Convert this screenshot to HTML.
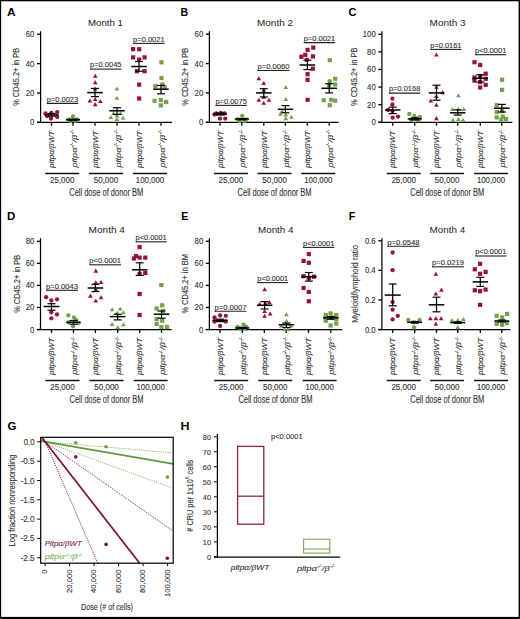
<!DOCTYPE html>
<html><head><meta charset="utf-8"><style>
html,body{margin:0;padding:0;background:#fff;width:520px;height:619px;overflow:hidden}
svg text{font-family:"Liberation Sans", sans-serif}
</style></head><body>
<svg width="520" height="619" viewBox="0 0 520 619" style="display:block;font-family:'Liberation Sans', sans-serif">
<rect x="0" y="0" width="520" height="619" fill="#000"/>
<rect x="1.15" y="1.3" width="517.45" height="615.6" fill="#fff"/>
<text x="7.0" y="16.4" font-size="11" text-anchor="start" fill="#000" font-weight="bold" font-style="normal" textLength="8.6" lengthAdjust="spacingAndGlyphs">A</text>
<text x="88.0" y="26.0" font-size="9.4" text-anchor="start" fill="#222" font-weight="normal" font-style="normal" textLength="35.0" lengthAdjust="spacingAndGlyphs">Month 1</text>
<line x1="40.6" y1="31.25" x2="40.6" y2="123.0" stroke="#000" stroke-width="1.25"/>
<line x1="37.0" y1="122.4" x2="40.6" y2="122.4" stroke="#000" stroke-width="1.3"/>
<text x="34.4" y="125.4" font-size="8.6" text-anchor="end" fill="#333" font-weight="normal" font-style="normal" textLength="4.3" lengthAdjust="spacingAndGlyphs" stroke="#333" stroke-width="0.12">0</text>
<line x1="37.0" y1="93.01666666666667" x2="40.6" y2="93.01666666666667" stroke="#000" stroke-width="1.3"/>
<text x="34.4" y="96.01666666666667" font-size="8.6" text-anchor="end" fill="#333" font-weight="normal" font-style="normal" textLength="8.6" lengthAdjust="spacingAndGlyphs" stroke="#333" stroke-width="0.12">20</text>
<line x1="37.0" y1="63.63333333333333" x2="40.6" y2="63.63333333333333" stroke="#000" stroke-width="1.3"/>
<text x="34.4" y="66.63333333333333" font-size="8.6" text-anchor="end" fill="#333" font-weight="normal" font-style="normal" textLength="8.6" lengthAdjust="spacingAndGlyphs" stroke="#333" stroke-width="0.12">40</text>
<line x1="37.0" y1="34.249999999999986" x2="40.6" y2="34.249999999999986" stroke="#000" stroke-width="1.3"/>
<text x="34.4" y="37.249999999999986" font-size="8.6" text-anchor="end" fill="#333" font-weight="normal" font-style="normal" textLength="8.6" lengthAdjust="spacingAndGlyphs" stroke="#333" stroke-width="0.12">60</text>
<text transform="translate(19.200000000000003,76.825) rotate(-90)" font-size="8.6" text-anchor="middle" fill="#333" font-weight="normal" font-style="normal" textLength="58" lengthAdjust="spacingAndGlyphs" stroke="#333" stroke-width="0.12">% CD45.2+ in PB</text>
<line x1="37.0" y1="122.4" x2="172" y2="122.4" stroke="#000" stroke-width="1.25"/>
<line x1="51.5" y1="122.4" x2="51.5" y2="125.80000000000001" stroke="#000" stroke-width="1.3"/>
<line x1="73" y1="122.4" x2="73" y2="125.80000000000001" stroke="#000" stroke-width="1.3"/>
<line x1="95" y1="122.4" x2="95" y2="125.80000000000001" stroke="#000" stroke-width="1.3"/>
<line x1="117" y1="122.4" x2="117" y2="125.80000000000001" stroke="#000" stroke-width="1.3"/>
<line x1="139" y1="122.4" x2="139" y2="125.80000000000001" stroke="#000" stroke-width="1.3"/>
<line x1="161" y1="122.4" x2="161" y2="125.80000000000001" stroke="#000" stroke-width="1.3"/>
<text transform="translate(54.2,167.9) rotate(-90)" font-size="7.6" text-anchor="start" fill="#333" font-weight="normal" font-style="italic" textLength="37.2" lengthAdjust="spacingAndGlyphs" stroke="#333" stroke-width="0.12">pitpα/βWT</text>
<text transform="translate(76.6,167.6) rotate(-90)" font-size="7.6" text-anchor="start" fill="#333" font-weight="normal" font-style="italic" textLength="38.0" lengthAdjust="spacingAndGlyphs" stroke="#333" stroke-width="0.12">pitpα<tspan font-size="4.5" dy="-2.5">-/-</tspan><tspan dy="2.5">/β</tspan><tspan font-size="4.5" dy="-2.5">-/-</tspan></text>
<text transform="translate(97.7,167.9) rotate(-90)" font-size="7.6" text-anchor="start" fill="#333" font-weight="normal" font-style="italic" textLength="37.2" lengthAdjust="spacingAndGlyphs" stroke="#333" stroke-width="0.12">pitpα/βWT</text>
<text transform="translate(120.6,167.6) rotate(-90)" font-size="7.6" text-anchor="start" fill="#333" font-weight="normal" font-style="italic" textLength="38.0" lengthAdjust="spacingAndGlyphs" stroke="#333" stroke-width="0.12">pitpα<tspan font-size="4.5" dy="-2.5">-/-</tspan><tspan dy="2.5">/β</tspan><tspan font-size="4.5" dy="-2.5">-/-</tspan></text>
<text transform="translate(141.7,167.9) rotate(-90)" font-size="7.6" text-anchor="start" fill="#333" font-weight="normal" font-style="italic" textLength="37.2" lengthAdjust="spacingAndGlyphs" stroke="#333" stroke-width="0.12">pitpα/βWT</text>
<text transform="translate(164.6,167.6) rotate(-90)" font-size="7.6" text-anchor="start" fill="#333" font-weight="normal" font-style="italic" textLength="38.0" lengthAdjust="spacingAndGlyphs" stroke="#333" stroke-width="0.12">pitpα<tspan font-size="4.5" dy="-2.5">-/-</tspan><tspan dy="2.5">/β</tspan><tspan font-size="4.5" dy="-2.5">-/-</tspan></text>
<line x1="45.25" y1="173.5" x2="79.25" y2="173.5" stroke="#111" stroke-width="1.3"/>
<text x="62.25" y="183" font-size="8.3" text-anchor="middle" fill="#333" font-weight="normal" font-style="normal" textLength="24.6" lengthAdjust="spacingAndGlyphs" stroke="#333" stroke-width="0.12">25,000</text>
<line x1="89.0" y1="173.5" x2="123.0" y2="173.5" stroke="#111" stroke-width="1.3"/>
<text x="106.0" y="183" font-size="8.3" text-anchor="middle" fill="#333" font-weight="normal" font-style="normal" textLength="24.6" lengthAdjust="spacingAndGlyphs" stroke="#333" stroke-width="0.12">50,000</text>
<line x1="133.0" y1="173.5" x2="167.0" y2="173.5" stroke="#111" stroke-width="1.3"/>
<text x="150.0" y="183" font-size="8.3" text-anchor="middle" fill="#333" font-weight="normal" font-style="normal" textLength="28.3" lengthAdjust="spacingAndGlyphs" stroke="#333" stroke-width="0.12">100,000</text>
<text x="106.25" y="196.2" font-size="10" text-anchor="middle" fill="#333" font-weight="normal" font-style="normal" textLength="74" lengthAdjust="spacingAndGlyphs" stroke="#333" stroke-width="0.12">Cell dose of donor BM</text>
<circle cx="45.5" cy="113.5" r="2.15" fill="#981238"/>
<circle cx="51.3" cy="112.8" r="2.15" fill="#981238"/>
<circle cx="57.2" cy="112.1" r="2.15" fill="#981238"/>
<circle cx="51" cy="118.6" r="2.15" fill="#981238"/>
<circle cx="57.2" cy="117" r="2.15" fill="#981238"/>
<circle cx="47" cy="116" r="2.15" fill="#981238"/>
<line x1="44.5" y1="114.9" x2="58.5" y2="114.9" stroke="#000" stroke-width="1.5"/>
<line x1="51.5" y1="113.5" x2="51.5" y2="116.2" stroke="#000" stroke-width="1.25"/>
<line x1="47.5" y1="113.5" x2="55.5" y2="113.5" stroke="#000" stroke-width="1.2"/>
<line x1="47.5" y1="116.2" x2="55.5" y2="116.2" stroke="#000" stroke-width="1.2"/>
<circle cx="68.5" cy="119.5" r="2.15" fill="#73a14b"/>
<circle cx="73" cy="116.5" r="2.15" fill="#73a14b"/>
<circle cx="77.5" cy="119.5" r="2.15" fill="#73a14b"/>
<circle cx="70.5" cy="121" r="2.15" fill="#73a14b"/>
<circle cx="75.5" cy="121" r="2.15" fill="#73a14b"/>
<line x1="66.0" y1="119.8" x2="80.0" y2="119.8" stroke="#000" stroke-width="1.5"/>
<line x1="73" y1="119" x2="73" y2="120.6" stroke="#000" stroke-width="1.25"/>
<line x1="69.0" y1="119" x2="77.0" y2="119" stroke="#000" stroke-width="1.2"/>
<line x1="69.0" y1="120.6" x2="77.0" y2="120.6" stroke="#000" stroke-width="1.2"/>
<polygon points="95.20,73.78 92.85,77.85 97.55,77.85" fill="#981238"/>
<polygon points="95.20,80.08 92.85,84.15 97.55,84.15" fill="#981238"/>
<polygon points="95.20,86.38 92.85,90.45 97.55,90.45" fill="#981238"/>
<polygon points="89.90,98.38 87.55,102.45 92.25,102.45" fill="#981238"/>
<polygon points="95.20,96.88 92.85,100.95 97.55,100.95" fill="#981238"/>
<polygon points="100.40,98.98 98.05,103.05 102.75,103.05" fill="#981238"/>
<polygon points="95.20,102.08 92.85,106.15 97.55,106.15" fill="#981238"/>
<line x1="87.25" y1="92.6" x2="102.75" y2="92.6" stroke="#000" stroke-width="1.5"/>
<line x1="95" y1="88.4" x2="95" y2="96.6" stroke="#000" stroke-width="1.25"/>
<line x1="91.0" y1="88.4" x2="99.0" y2="88.4" stroke="#000" stroke-width="1.2"/>
<line x1="91.0" y1="96.6" x2="99.0" y2="96.6" stroke="#000" stroke-width="1.2"/>
<polygon points="116.90,86.48 114.55,90.55 119.25,90.55" fill="#73a14b"/>
<polygon points="116.90,95.68 114.55,99.75 119.25,99.75" fill="#73a14b"/>
<polygon points="110.80,114.88 108.45,118.95 113.15,118.95" fill="#73a14b"/>
<polygon points="116.90,113.38 114.55,117.45 119.25,117.45" fill="#73a14b"/>
<polygon points="123.00,115.68 120.65,119.75 125.35,119.75" fill="#73a14b"/>
<polygon points="113.50,110.98 111.15,115.05 115.85,115.05" fill="#73a14b"/>
<polygon points="120.50,110.98 118.15,115.05 122.85,115.05" fill="#73a14b"/>
<polygon points="116.90,116.98 114.55,121.05 119.25,121.05" fill="#73a14b"/>
<line x1="109.25" y1="110.8" x2="124.75" y2="110.8" stroke="#000" stroke-width="1.5"/>
<line x1="117" y1="107.7" x2="117" y2="114.4" stroke="#000" stroke-width="1.25"/>
<line x1="113.0" y1="107.7" x2="121.0" y2="107.7" stroke="#000" stroke-width="1.2"/>
<line x1="113.0" y1="114.4" x2="121.0" y2="114.4" stroke="#000" stroke-width="1.2"/>
<rect x="131.00" y="47.10" width="4.2" height="4.2" fill="#981238"/>
<rect x="137.10" y="47.10" width="4.2" height="4.2" fill="#981238"/>
<rect x="131.00" y="55.30" width="4.2" height="4.2" fill="#981238"/>
<rect x="142.50" y="55.30" width="4.2" height="4.2" fill="#981238"/>
<rect x="137.10" y="57.50" width="4.2" height="4.2" fill="#981238"/>
<rect x="134.80" y="69.10" width="4.2" height="4.2" fill="#981238"/>
<rect x="142.50" y="69.10" width="4.2" height="4.2" fill="#981238"/>
<rect x="137.10" y="82.50" width="4.2" height="4.2" fill="#981238"/>
<rect x="137.10" y="96.40" width="4.2" height="4.2" fill="#981238"/>
<line x1="131.25" y1="66.5" x2="146.75" y2="66.5" stroke="#000" stroke-width="1.5"/>
<line x1="139" y1="61.5" x2="139" y2="71.2" stroke="#000" stroke-width="1.25"/>
<line x1="135.0" y1="61.5" x2="143.0" y2="61.5" stroke="#000" stroke-width="1.2"/>
<line x1="135.0" y1="71.2" x2="143.0" y2="71.2" stroke="#000" stroke-width="1.2"/>
<rect x="159.40" y="60.20" width="4.2" height="4.2" fill="#73a14b"/>
<rect x="159.40" y="75.90" width="4.2" height="4.2" fill="#73a14b"/>
<rect x="153.30" y="84.10" width="4.2" height="4.2" fill="#73a14b"/>
<rect x="160.20" y="82.50" width="4.2" height="4.2" fill="#73a14b"/>
<rect x="162.50" y="84.80" width="4.2" height="4.2" fill="#73a14b"/>
<rect x="152.50" y="98.70" width="4.2" height="4.2" fill="#73a14b"/>
<rect x="158.70" y="97.90" width="4.2" height="4.2" fill="#73a14b"/>
<rect x="164.10" y="99.90" width="4.2" height="4.2" fill="#73a14b"/>
<rect x="158.70" y="103.30" width="4.2" height="4.2" fill="#73a14b"/>
<line x1="153.25" y1="89.2" x2="168.75" y2="89.2" stroke="#000" stroke-width="1.5"/>
<line x1="161" y1="85.4" x2="161" y2="93.8" stroke="#000" stroke-width="1.25"/>
<line x1="157.0" y1="85.4" x2="165.0" y2="85.4" stroke="#000" stroke-width="1.2"/>
<line x1="157.0" y1="93.8" x2="165.0" y2="93.8" stroke="#000" stroke-width="1.2"/>
<text x="46.8" y="101.60000000000001" font-size="6.9" text-anchor="start" fill="#333" font-weight="normal" font-style="normal" textLength="31.4" lengthAdjust="spacingAndGlyphs" stroke="#333" stroke-width="0.12">p=0.0023</text>
<line x1="46.8" y1="103.4" x2="78.2" y2="103.4" stroke="#222" stroke-width="1.1"/>
<text x="90.1" y="67.30000000000001" font-size="6.9" text-anchor="start" fill="#333" font-weight="normal" font-style="normal" textLength="31.4" lengthAdjust="spacingAndGlyphs" stroke="#333" stroke-width="0.12">p=0.0045</text>
<line x1="90.1" y1="69.10000000000001" x2="121.5" y2="69.10000000000001" stroke="#222" stroke-width="1.1"/>
<text x="133.1" y="41.6" font-size="6.9" text-anchor="start" fill="#333" font-weight="normal" font-style="normal" textLength="31.5" lengthAdjust="spacingAndGlyphs" stroke="#333" stroke-width="0.12">p=0.0021</text>
<line x1="133.1" y1="43.400000000000006" x2="164.6" y2="43.400000000000006" stroke="#222" stroke-width="1.1"/>
<text x="180.6" y="16.3" font-size="11" text-anchor="start" fill="#000" font-weight="bold" font-style="normal" textLength="7.6" lengthAdjust="spacingAndGlyphs">B</text>
<text x="257.0" y="26.0" font-size="9.4" text-anchor="start" fill="#222" font-weight="normal" font-style="normal" textLength="36.0" lengthAdjust="spacingAndGlyphs">Month 2</text>
<line x1="209.4" y1="31.25" x2="209.4" y2="122.89999999999999" stroke="#000" stroke-width="1.25"/>
<line x1="205.8" y1="122.3" x2="209.4" y2="122.3" stroke="#000" stroke-width="1.3"/>
<text x="203.20000000000002" y="125.3" font-size="8.6" text-anchor="end" fill="#333" font-weight="normal" font-style="normal" textLength="4.3" lengthAdjust="spacingAndGlyphs" stroke="#333" stroke-width="0.12">0</text>
<line x1="205.8" y1="92.95" x2="209.4" y2="92.95" stroke="#000" stroke-width="1.3"/>
<text x="203.20000000000002" y="95.95" font-size="8.6" text-anchor="end" fill="#333" font-weight="normal" font-style="normal" textLength="8.6" lengthAdjust="spacingAndGlyphs" stroke="#333" stroke-width="0.12">20</text>
<line x1="205.8" y1="63.6" x2="209.4" y2="63.6" stroke="#000" stroke-width="1.3"/>
<text x="203.20000000000002" y="66.6" font-size="8.6" text-anchor="end" fill="#333" font-weight="normal" font-style="normal" textLength="8.6" lengthAdjust="spacingAndGlyphs" stroke="#333" stroke-width="0.12">40</text>
<line x1="205.8" y1="34.25" x2="209.4" y2="34.25" stroke="#000" stroke-width="1.3"/>
<text x="203.20000000000002" y="37.25" font-size="8.6" text-anchor="end" fill="#333" font-weight="normal" font-style="normal" textLength="8.6" lengthAdjust="spacingAndGlyphs" stroke="#333" stroke-width="0.12">60</text>
<text transform="translate(188.0,76.775) rotate(-90)" font-size="8.6" text-anchor="middle" fill="#333" font-weight="normal" font-style="normal" textLength="58" lengthAdjust="spacingAndGlyphs" stroke="#333" stroke-width="0.12">% CD45.2+ in PB</text>
<line x1="205.8" y1="122.3" x2="338.6" y2="122.3" stroke="#000" stroke-width="1.25"/>
<line x1="220" y1="122.3" x2="220" y2="125.7" stroke="#000" stroke-width="1.3"/>
<line x1="241.8" y1="122.3" x2="241.8" y2="125.7" stroke="#000" stroke-width="1.3"/>
<line x1="263.8" y1="122.3" x2="263.8" y2="125.7" stroke="#000" stroke-width="1.3"/>
<line x1="285.4" y1="122.3" x2="285.4" y2="125.7" stroke="#000" stroke-width="1.3"/>
<line x1="307.4" y1="122.3" x2="307.4" y2="125.7" stroke="#000" stroke-width="1.3"/>
<line x1="329.2" y1="122.3" x2="329.2" y2="125.7" stroke="#000" stroke-width="1.3"/>
<text transform="translate(222.7,167.9) rotate(-90)" font-size="7.6" text-anchor="start" fill="#333" font-weight="normal" font-style="italic" textLength="37.2" lengthAdjust="spacingAndGlyphs" stroke="#333" stroke-width="0.12">pitpα/βWT</text>
<text transform="translate(245.4,167.6) rotate(-90)" font-size="7.6" text-anchor="start" fill="#333" font-weight="normal" font-style="italic" textLength="38.0" lengthAdjust="spacingAndGlyphs" stroke="#333" stroke-width="0.12">pitpα<tspan font-size="4.5" dy="-2.5">-/-</tspan><tspan dy="2.5">/β</tspan><tspan font-size="4.5" dy="-2.5">-/-</tspan></text>
<text transform="translate(266.5,167.9) rotate(-90)" font-size="7.6" text-anchor="start" fill="#333" font-weight="normal" font-style="italic" textLength="37.2" lengthAdjust="spacingAndGlyphs" stroke="#333" stroke-width="0.12">pitpα/βWT</text>
<text transform="translate(289.0,167.6) rotate(-90)" font-size="7.6" text-anchor="start" fill="#333" font-weight="normal" font-style="italic" textLength="38.0" lengthAdjust="spacingAndGlyphs" stroke="#333" stroke-width="0.12">pitpα<tspan font-size="4.5" dy="-2.5">-/-</tspan><tspan dy="2.5">/β</tspan><tspan font-size="4.5" dy="-2.5">-/-</tspan></text>
<text transform="translate(310.09999999999997,167.9) rotate(-90)" font-size="7.6" text-anchor="start" fill="#333" font-weight="normal" font-style="italic" textLength="37.2" lengthAdjust="spacingAndGlyphs" stroke="#333" stroke-width="0.12">pitpα/βWT</text>
<text transform="translate(332.8,167.6) rotate(-90)" font-size="7.6" text-anchor="start" fill="#333" font-weight="normal" font-style="italic" textLength="38.0" lengthAdjust="spacingAndGlyphs" stroke="#333" stroke-width="0.12">pitpα<tspan font-size="4.5" dy="-2.5">-/-</tspan><tspan dy="2.5">/β</tspan><tspan font-size="4.5" dy="-2.5">-/-</tspan></text>
<line x1="213.9" y1="173.5" x2="247.9" y2="173.5" stroke="#111" stroke-width="1.3"/>
<text x="230.9" y="183" font-size="8.3" text-anchor="middle" fill="#333" font-weight="normal" font-style="normal" textLength="24.6" lengthAdjust="spacingAndGlyphs" stroke="#333" stroke-width="0.12">25,000</text>
<line x1="257.6" y1="173.5" x2="291.6" y2="173.5" stroke="#111" stroke-width="1.3"/>
<text x="274.6" y="183" font-size="8.3" text-anchor="middle" fill="#333" font-weight="normal" font-style="normal" textLength="24.6" lengthAdjust="spacingAndGlyphs" stroke="#333" stroke-width="0.12">50,000</text>
<line x1="301.29999999999995" y1="173.5" x2="335.29999999999995" y2="173.5" stroke="#111" stroke-width="1.3"/>
<text x="318.29999999999995" y="183" font-size="8.3" text-anchor="middle" fill="#333" font-weight="normal" font-style="normal" textLength="28.3" lengthAdjust="spacingAndGlyphs" stroke="#333" stroke-width="0.12">100,000</text>
<text x="274.6" y="196.2" font-size="10" text-anchor="middle" fill="#333" font-weight="normal" font-style="normal" textLength="74" lengthAdjust="spacingAndGlyphs" stroke="#333" stroke-width="0.12">Cell dose of donor BM</text>
<circle cx="216.1" cy="113.5" r="2.15" fill="#981238"/>
<circle cx="220.7" cy="112.8" r="2.15" fill="#981238"/>
<circle cx="224.6" cy="113.5" r="2.15" fill="#981238"/>
<circle cx="220" cy="118.6" r="2.15" fill="#981238"/>
<circle cx="225.3" cy="118.6" r="2.15" fill="#981238"/>
<circle cx="214.5" cy="114.5" r="2.15" fill="#981238"/>
<line x1="213.0" y1="114" x2="227.0" y2="114" stroke="#000" stroke-width="1.5"/>
<line x1="220" y1="113" x2="220" y2="115" stroke="#000" stroke-width="1.25"/>
<line x1="216.0" y1="113" x2="224.0" y2="113" stroke="#000" stroke-width="1.2"/>
<line x1="216.0" y1="115" x2="224.0" y2="115" stroke="#000" stroke-width="1.2"/>
<circle cx="237.5" cy="119.5" r="2.15" fill="#73a14b"/>
<circle cx="242.2" cy="115.8" r="2.15" fill="#73a14b"/>
<circle cx="246.5" cy="119.5" r="2.15" fill="#73a14b"/>
<circle cx="239.5" cy="121" r="2.15" fill="#73a14b"/>
<circle cx="244.5" cy="121" r="2.15" fill="#73a14b"/>
<line x1="234.8" y1="119" x2="248.8" y2="119" stroke="#000" stroke-width="1.5"/>
<line x1="241.8" y1="118.5" x2="241.8" y2="119.8" stroke="#000" stroke-width="1.25"/>
<line x1="237.8" y1="118.5" x2="245.8" y2="118.5" stroke="#000" stroke-width="1.2"/>
<line x1="237.8" y1="119.8" x2="245.8" y2="119.8" stroke="#000" stroke-width="1.2"/>
<polygon points="258.80,76.28 256.45,80.35 261.15,80.35" fill="#981238"/>
<polygon points="263.70,80.88 261.35,84.95 266.05,84.95" fill="#981238"/>
<polygon points="263.70,87.78 261.35,91.85 266.05,91.85" fill="#981238"/>
<polygon points="258.80,97.78 256.45,101.85 261.15,101.85" fill="#981238"/>
<polygon points="263.70,94.68 261.35,98.75 266.05,98.75" fill="#981238"/>
<polygon points="269.00,97.78 266.65,101.85 271.35,101.85" fill="#981238"/>
<polygon points="263.70,100.78 261.35,104.85 266.05,104.85" fill="#981238"/>
<line x1="256.05" y1="92.9" x2="271.55" y2="92.9" stroke="#000" stroke-width="1.5"/>
<line x1="263.8" y1="88.7" x2="263.8" y2="97" stroke="#000" stroke-width="1.25"/>
<line x1="259.8" y1="88.7" x2="267.8" y2="88.7" stroke="#000" stroke-width="1.2"/>
<line x1="259.8" y1="97" x2="267.8" y2="97" stroke="#000" stroke-width="1.2"/>
<polygon points="285.80,84.98 283.45,89.05 288.15,89.05" fill="#73a14b"/>
<polygon points="285.80,96.98 283.45,101.05 288.15,101.05" fill="#73a14b"/>
<polygon points="280.40,111.58 278.05,115.65 282.75,115.65" fill="#73a14b"/>
<polygon points="285.80,112.38 283.45,116.45 288.15,116.45" fill="#73a14b"/>
<polygon points="291.50,114.68 289.15,118.75 293.85,118.75" fill="#73a14b"/>
<polygon points="285.80,116.18 283.45,120.25 288.15,120.25" fill="#73a14b"/>
<polygon points="282.00,108.98 279.65,113.05 284.35,113.05" fill="#73a14b"/>
<line x1="277.65" y1="109.3" x2="293.15" y2="109.3" stroke="#000" stroke-width="1.5"/>
<line x1="285.4" y1="105.6" x2="285.4" y2="112.8" stroke="#000" stroke-width="1.25"/>
<line x1="281.4" y1="105.6" x2="289.4" y2="105.6" stroke="#000" stroke-width="1.2"/>
<line x1="281.4" y1="112.8" x2="289.4" y2="112.8" stroke="#000" stroke-width="1.2"/>
<rect x="311.20" y="45.50" width="4.2" height="4.2" fill="#981238"/>
<rect x="305.50" y="47.80" width="4.2" height="4.2" fill="#981238"/>
<rect x="299.30" y="54.70" width="4.2" height="4.2" fill="#981238"/>
<rect x="303.20" y="52.70" width="4.2" height="4.2" fill="#981238"/>
<rect x="310.80" y="54.30" width="4.2" height="4.2" fill="#981238"/>
<rect x="304.70" y="57.80" width="4.2" height="4.2" fill="#981238"/>
<rect x="310.80" y="66.60" width="4.2" height="4.2" fill="#981238"/>
<rect x="305.50" y="72.10" width="4.2" height="4.2" fill="#981238"/>
<rect x="305.50" y="77.70" width="4.2" height="4.2" fill="#981238"/>
<rect x="305.50" y="97.70" width="4.2" height="4.2" fill="#981238"/>
<line x1="299.65" y1="65" x2="315.15" y2="65" stroke="#000" stroke-width="1.5"/>
<line x1="307.4" y1="60.2" x2="307.4" y2="69.6" stroke="#000" stroke-width="1.25"/>
<line x1="303.4" y1="60.2" x2="311.4" y2="60.2" stroke="#000" stroke-width="1.2"/>
<line x1="303.4" y1="69.6" x2="311.4" y2="69.6" stroke="#000" stroke-width="1.2"/>
<rect x="327.70" y="58.10" width="4.2" height="4.2" fill="#73a14b"/>
<rect x="333.10" y="76.70" width="4.2" height="4.2" fill="#73a14b"/>
<rect x="327.70" y="79.30" width="4.2" height="4.2" fill="#73a14b"/>
<rect x="333.10" y="82.30" width="4.2" height="4.2" fill="#73a14b"/>
<rect x="326.90" y="83.10" width="4.2" height="4.2" fill="#73a14b"/>
<rect x="321.60" y="98.10" width="4.2" height="4.2" fill="#73a14b"/>
<rect x="329.20" y="97.70" width="4.2" height="4.2" fill="#73a14b"/>
<rect x="333.10" y="98.50" width="4.2" height="4.2" fill="#73a14b"/>
<rect x="327.70" y="103.10" width="4.2" height="4.2" fill="#73a14b"/>
<line x1="321.45" y1="88.3" x2="336.95" y2="88.3" stroke="#000" stroke-width="1.5"/>
<line x1="329.2" y1="83.7" x2="329.2" y2="92.9" stroke="#000" stroke-width="1.25"/>
<line x1="325.2" y1="83.7" x2="333.2" y2="83.7" stroke="#000" stroke-width="1.2"/>
<line x1="325.2" y1="92.9" x2="333.2" y2="92.9" stroke="#000" stroke-width="1.2"/>
<text x="215.4" y="103.60000000000001" font-size="6.9" text-anchor="start" fill="#333" font-weight="normal" font-style="normal" textLength="31.4" lengthAdjust="spacingAndGlyphs" stroke="#333" stroke-width="0.12">p=0.0075</text>
<line x1="215.4" y1="105.4" x2="246.8" y2="105.4" stroke="#222" stroke-width="1.1"/>
<text x="257.5" y="68.7" font-size="6.9" text-anchor="start" fill="#333" font-weight="normal" font-style="normal" textLength="32.1" lengthAdjust="spacingAndGlyphs" stroke="#333" stroke-width="0.12">p=0.0060</text>
<line x1="257.5" y1="70.5" x2="289.6" y2="70.5" stroke="#222" stroke-width="1.1"/>
<text x="303.7" y="40.8" font-size="6.9" text-anchor="start" fill="#333" font-weight="normal" font-style="normal" textLength="31.5" lengthAdjust="spacingAndGlyphs" stroke="#333" stroke-width="0.12">p=0.0021</text>
<line x1="303.7" y1="42.6" x2="335.2" y2="42.6" stroke="#222" stroke-width="1.1"/>
<text x="348.4" y="16.3" font-size="11" text-anchor="start" fill="#000" font-weight="bold" font-style="normal" textLength="8.0" lengthAdjust="spacingAndGlyphs">C</text>
<text x="429.6" y="26.0" font-size="9.4" text-anchor="start" fill="#222" font-weight="normal" font-style="normal" textLength="36.0" lengthAdjust="spacingAndGlyphs">Month 3</text>
<line x1="381.9" y1="31.25" x2="381.9" y2="122.89999999999999" stroke="#000" stroke-width="1.25"/>
<line x1="378.29999999999995" y1="122.3" x2="381.9" y2="122.3" stroke="#000" stroke-width="1.3"/>
<text x="375.7" y="125.3" font-size="8.6" text-anchor="end" fill="#333" font-weight="normal" font-style="normal" textLength="4.3" lengthAdjust="spacingAndGlyphs" stroke="#333" stroke-width="0.12">0</text>
<line x1="378.29999999999995" y1="104.69" x2="381.9" y2="104.69" stroke="#000" stroke-width="1.3"/>
<text x="375.7" y="107.69" font-size="8.6" text-anchor="end" fill="#333" font-weight="normal" font-style="normal" textLength="8.6" lengthAdjust="spacingAndGlyphs" stroke="#333" stroke-width="0.12">20</text>
<line x1="378.29999999999995" y1="87.08" x2="381.9" y2="87.08" stroke="#000" stroke-width="1.3"/>
<text x="375.7" y="90.08" font-size="8.6" text-anchor="end" fill="#333" font-weight="normal" font-style="normal" textLength="8.6" lengthAdjust="spacingAndGlyphs" stroke="#333" stroke-width="0.12">40</text>
<line x1="378.29999999999995" y1="69.47" x2="381.9" y2="69.47" stroke="#000" stroke-width="1.3"/>
<text x="375.7" y="72.47" font-size="8.6" text-anchor="end" fill="#333" font-weight="normal" font-style="normal" textLength="8.6" lengthAdjust="spacingAndGlyphs" stroke="#333" stroke-width="0.12">60</text>
<line x1="378.29999999999995" y1="51.86" x2="381.9" y2="51.86" stroke="#000" stroke-width="1.3"/>
<text x="375.7" y="54.86" font-size="8.6" text-anchor="end" fill="#333" font-weight="normal" font-style="normal" textLength="8.6" lengthAdjust="spacingAndGlyphs" stroke="#333" stroke-width="0.12">80</text>
<line x1="378.29999999999995" y1="34.25" x2="381.9" y2="34.25" stroke="#000" stroke-width="1.3"/>
<text x="375.7" y="37.25" font-size="8.6" text-anchor="end" fill="#333" font-weight="normal" font-style="normal" textLength="12.9" lengthAdjust="spacingAndGlyphs" stroke="#333" stroke-width="0.12">100</text>
<text transform="translate(357.0,76.775) rotate(-90)" font-size="8.6" text-anchor="middle" fill="#333" font-weight="normal" font-style="normal" textLength="58.5" lengthAdjust="spacingAndGlyphs" stroke="#333" stroke-width="0.12">% CD45.2+ in PB</text>
<line x1="378.29999999999995" y1="122.3" x2="512.3" y2="122.3" stroke="#000" stroke-width="1.25"/>
<line x1="392.7" y1="122.3" x2="392.7" y2="125.7" stroke="#000" stroke-width="1.3"/>
<line x1="414.7" y1="122.3" x2="414.7" y2="125.7" stroke="#000" stroke-width="1.3"/>
<line x1="436.5" y1="122.3" x2="436.5" y2="125.7" stroke="#000" stroke-width="1.3"/>
<line x1="457.7" y1="122.3" x2="457.7" y2="125.7" stroke="#000" stroke-width="1.3"/>
<line x1="480.3" y1="122.3" x2="480.3" y2="125.7" stroke="#000" stroke-width="1.3"/>
<line x1="501.8" y1="122.3" x2="501.8" y2="125.7" stroke="#000" stroke-width="1.3"/>
<text transform="translate(395.4,167.9) rotate(-90)" font-size="7.6" text-anchor="start" fill="#333" font-weight="normal" font-style="italic" textLength="37.2" lengthAdjust="spacingAndGlyphs" stroke="#333" stroke-width="0.12">pitpα/βWT</text>
<text transform="translate(418.3,167.6) rotate(-90)" font-size="7.6" text-anchor="start" fill="#333" font-weight="normal" font-style="italic" textLength="38.0" lengthAdjust="spacingAndGlyphs" stroke="#333" stroke-width="0.12">pitpα<tspan font-size="4.5" dy="-2.5">-/-</tspan><tspan dy="2.5">/β</tspan><tspan font-size="4.5" dy="-2.5">-/-</tspan></text>
<text transform="translate(439.2,167.9) rotate(-90)" font-size="7.6" text-anchor="start" fill="#333" font-weight="normal" font-style="italic" textLength="37.2" lengthAdjust="spacingAndGlyphs" stroke="#333" stroke-width="0.12">pitpα/βWT</text>
<text transform="translate(461.3,167.6) rotate(-90)" font-size="7.6" text-anchor="start" fill="#333" font-weight="normal" font-style="italic" textLength="38.0" lengthAdjust="spacingAndGlyphs" stroke="#333" stroke-width="0.12">pitpα<tspan font-size="4.5" dy="-2.5">-/-</tspan><tspan dy="2.5">/β</tspan><tspan font-size="4.5" dy="-2.5">-/-</tspan></text>
<text transform="translate(483.0,167.9) rotate(-90)" font-size="7.6" text-anchor="start" fill="#333" font-weight="normal" font-style="italic" textLength="37.2" lengthAdjust="spacingAndGlyphs" stroke="#333" stroke-width="0.12">pitpα/βWT</text>
<text transform="translate(505.40000000000003,167.6) rotate(-90)" font-size="7.6" text-anchor="start" fill="#333" font-weight="normal" font-style="italic" textLength="38.0" lengthAdjust="spacingAndGlyphs" stroke="#333" stroke-width="0.12">pitpα<tspan font-size="4.5" dy="-2.5">-/-</tspan><tspan dy="2.5">/β</tspan><tspan font-size="4.5" dy="-2.5">-/-</tspan></text>
<line x1="386.7" y1="173.5" x2="420.7" y2="173.5" stroke="#111" stroke-width="1.3"/>
<text x="403.7" y="183" font-size="8.3" text-anchor="middle" fill="#333" font-weight="normal" font-style="normal" textLength="24.6" lengthAdjust="spacingAndGlyphs" stroke="#333" stroke-width="0.12">25,000</text>
<line x1="430.1" y1="173.5" x2="464.1" y2="173.5" stroke="#111" stroke-width="1.3"/>
<text x="447.1" y="183" font-size="8.3" text-anchor="middle" fill="#333" font-weight="normal" font-style="normal" textLength="24.6" lengthAdjust="spacingAndGlyphs" stroke="#333" stroke-width="0.12">50,000</text>
<line x1="474.05" y1="173.5" x2="508.05" y2="173.5" stroke="#111" stroke-width="1.3"/>
<text x="491.05" y="183" font-size="8.3" text-anchor="middle" fill="#333" font-weight="normal" font-style="normal" textLength="28.3" lengthAdjust="spacingAndGlyphs" stroke="#333" stroke-width="0.12">100,000</text>
<text x="447.25" y="196.2" font-size="10" text-anchor="middle" fill="#333" font-weight="normal" font-style="normal" textLength="74" lengthAdjust="spacingAndGlyphs" stroke="#333" stroke-width="0.12">Cell dose of donor BM</text>
<circle cx="392.4" cy="98.7" r="2.15" fill="#981238"/>
<circle cx="392.4" cy="104.4" r="2.15" fill="#981238"/>
<circle cx="388.1" cy="110" r="2.15" fill="#981238"/>
<circle cx="392.4" cy="111" r="2.15" fill="#981238"/>
<circle cx="392.7" cy="117.7" r="2.15" fill="#981238"/>
<circle cx="398.1" cy="116.6" r="2.15" fill="#981238"/>
<line x1="384.95" y1="110" x2="400.45" y2="110" stroke="#000" stroke-width="1.5"/>
<line x1="392.7" y1="107.1" x2="392.7" y2="113.6" stroke="#000" stroke-width="1.25"/>
<line x1="388.7" y1="107.1" x2="396.7" y2="107.1" stroke="#000" stroke-width="1.2"/>
<line x1="388.7" y1="113.6" x2="396.7" y2="113.6" stroke="#000" stroke-width="1.2"/>
<circle cx="409.3" cy="114" r="2.15" fill="#73a14b"/>
<circle cx="414.2" cy="115.9" r="2.15" fill="#73a14b"/>
<circle cx="418.8" cy="120.5" r="2.15" fill="#73a14b"/>
<circle cx="411" cy="120" r="2.15" fill="#73a14b"/>
<circle cx="416" cy="118.5" r="2.15" fill="#73a14b"/>
<circle cx="420" cy="117" r="2.15" fill="#73a14b"/>
<line x1="407.7" y1="118.9" x2="421.7" y2="118.9" stroke="#000" stroke-width="1.5"/>
<line x1="414.7" y1="117.8" x2="414.7" y2="120" stroke="#000" stroke-width="1.25"/>
<line x1="410.7" y1="117.8" x2="418.7" y2="117.8" stroke="#000" stroke-width="1.2"/>
<line x1="410.7" y1="120" x2="418.7" y2="120" stroke="#000" stroke-width="1.2"/>
<polygon points="436.40,52.48 434.05,56.55 438.75,56.55" fill="#981238"/>
<polygon points="436.40,84.68 434.05,88.75 438.75,88.75" fill="#981238"/>
<polygon points="442.60,90.08 440.25,94.15 444.95,94.15" fill="#981238"/>
<polygon points="436.40,93.88 434.05,97.95 438.75,97.95" fill="#981238"/>
<polygon points="430.80,98.48 428.45,102.55 433.15,102.55" fill="#981238"/>
<polygon points="436.40,102.78 434.05,106.85 438.75,106.85" fill="#981238"/>
<polygon points="436.40,116.08 434.05,120.15 438.75,120.15" fill="#981238"/>
<line x1="428.75" y1="92.9" x2="444.25" y2="92.9" stroke="#000" stroke-width="1.5"/>
<line x1="436.5" y1="85.2" x2="436.5" y2="100.2" stroke="#000" stroke-width="1.25"/>
<line x1="432.5" y1="85.2" x2="440.5" y2="85.2" stroke="#000" stroke-width="1.2"/>
<line x1="432.5" y1="100.2" x2="440.5" y2="100.2" stroke="#000" stroke-width="1.2"/>
<polygon points="458.40,93.18 456.05,97.25 460.75,97.25" fill="#73a14b"/>
<polygon points="452.30,106.98 449.95,111.05 454.65,111.05" fill="#73a14b"/>
<polygon points="458.40,106.98 456.05,111.05 460.75,111.05" fill="#73a14b"/>
<polygon points="463.80,106.98 461.45,111.05 466.15,111.05" fill="#73a14b"/>
<polygon points="453.00,117.68 450.65,121.75 455.35,121.75" fill="#73a14b"/>
<polygon points="458.40,116.98 456.05,121.05 460.75,121.05" fill="#73a14b"/>
<polygon points="463.00,117.68 460.65,121.75 465.35,121.75" fill="#73a14b"/>
<line x1="449.95" y1="112.8" x2="465.45" y2="112.8" stroke="#000" stroke-width="1.5"/>
<line x1="457.7" y1="109.8" x2="457.7" y2="115.1" stroke="#000" stroke-width="1.25"/>
<line x1="453.7" y1="109.8" x2="461.7" y2="109.8" stroke="#000" stroke-width="1.2"/>
<line x1="453.7" y1="115.1" x2="461.7" y2="115.1" stroke="#000" stroke-width="1.2"/>
<rect x="472.40" y="60.10" width="4.2" height="4.2" fill="#981238"/>
<rect x="478.10" y="62.90" width="4.2" height="4.2" fill="#981238"/>
<rect x="483.60" y="71.60" width="4.2" height="4.2" fill="#981238"/>
<rect x="478.10" y="73.90" width="4.2" height="4.2" fill="#981238"/>
<rect x="472.40" y="75.40" width="4.2" height="4.2" fill="#981238"/>
<rect x="483.60" y="76.70" width="4.2" height="4.2" fill="#981238"/>
<rect x="472.40" y="78.50" width="4.2" height="4.2" fill="#981238"/>
<rect x="478.10" y="80.00" width="4.2" height="4.2" fill="#981238"/>
<rect x="478.10" y="85.40" width="4.2" height="4.2" fill="#981238"/>
<rect x="483.60" y="82.80" width="4.2" height="4.2" fill="#981238"/>
<line x1="472.55" y1="78.3" x2="488.05" y2="78.3" stroke="#000" stroke-width="1.5"/>
<line x1="480.3" y1="74.8" x2="480.3" y2="82.1" stroke="#000" stroke-width="1.25"/>
<line x1="476.3" y1="74.8" x2="484.3" y2="74.8" stroke="#000" stroke-width="1.2"/>
<line x1="476.3" y1="82.1" x2="484.3" y2="82.1" stroke="#000" stroke-width="1.2"/>
<rect x="500.00" y="77.70" width="4.2" height="4.2" fill="#73a14b"/>
<rect x="500.00" y="87.70" width="4.2" height="4.2" fill="#73a14b"/>
<rect x="494.60" y="103.10" width="4.2" height="4.2" fill="#73a14b"/>
<rect x="500.00" y="109.20" width="4.2" height="4.2" fill="#73a14b"/>
<rect x="494.60" y="115.30" width="4.2" height="4.2" fill="#73a14b"/>
<rect x="500.80" y="114.60" width="4.2" height="4.2" fill="#73a14b"/>
<rect x="503.90" y="116.90" width="4.2" height="4.2" fill="#73a14b"/>
<rect x="499.20" y="117.60" width="4.2" height="4.2" fill="#73a14b"/>
<rect x="494.60" y="109.90" width="4.2" height="4.2" fill="#73a14b"/>
<line x1="494.05" y1="108.2" x2="509.55" y2="108.2" stroke="#000" stroke-width="1.5"/>
<line x1="501.8" y1="104.4" x2="501.8" y2="112" stroke="#000" stroke-width="1.25"/>
<line x1="497.8" y1="104.4" x2="505.8" y2="104.4" stroke="#000" stroke-width="1.2"/>
<line x1="497.8" y1="112" x2="505.8" y2="112" stroke="#000" stroke-width="1.2"/>
<text x="388.9" y="91.30000000000001" font-size="6.9" text-anchor="start" fill="#333" font-weight="normal" font-style="normal" textLength="31.4" lengthAdjust="spacingAndGlyphs" stroke="#333" stroke-width="0.12">p=0.0168</text>
<line x1="388.9" y1="93.10000000000001" x2="420.3" y2="93.10000000000001" stroke="#222" stroke-width="1.1"/>
<text x="430.3" y="47.6" font-size="6.9" text-anchor="start" fill="#333" font-weight="normal" font-style="normal" textLength="31.2" lengthAdjust="spacingAndGlyphs" stroke="#333" stroke-width="0.12">p=0.0161</text>
<line x1="430.3" y1="49.400000000000006" x2="461.5" y2="49.400000000000006" stroke="#222" stroke-width="1.1"/>
<text x="475" y="52.9" font-size="6.9" text-anchor="start" fill="#333" font-weight="normal" font-style="normal" textLength="31.3" lengthAdjust="spacingAndGlyphs" stroke="#333" stroke-width="0.12">p&lt;0.0001</text>
<line x1="475" y1="54.7" x2="506.3" y2="54.7" stroke="#222" stroke-width="1.1"/>
<text x="6.9" y="220.4" font-size="11" text-anchor="start" fill="#000" font-weight="bold" font-style="normal" textLength="8.3" lengthAdjust="spacingAndGlyphs">D</text>
<text x="88.6" y="232.6" font-size="9.4" text-anchor="start" fill="#222" font-weight="normal" font-style="normal" textLength="36.3" lengthAdjust="spacingAndGlyphs">Month 4</text>
<line x1="40.5" y1="238.2" x2="40.5" y2="330.1" stroke="#000" stroke-width="1.25"/>
<line x1="36.9" y1="329.5" x2="40.5" y2="329.5" stroke="#000" stroke-width="1.3"/>
<text x="34.3" y="332.5" font-size="8.6" text-anchor="end" fill="#333" font-weight="normal" font-style="normal" textLength="4.3" lengthAdjust="spacingAndGlyphs" stroke="#333" stroke-width="0.12">0</text>
<line x1="36.9" y1="307.45" x2="40.5" y2="307.45" stroke="#000" stroke-width="1.3"/>
<text x="34.3" y="310.45" font-size="8.6" text-anchor="end" fill="#333" font-weight="normal" font-style="normal" textLength="8.6" lengthAdjust="spacingAndGlyphs" stroke="#333" stroke-width="0.12">20</text>
<line x1="36.9" y1="285.4" x2="40.5" y2="285.4" stroke="#000" stroke-width="1.3"/>
<text x="34.3" y="288.4" font-size="8.6" text-anchor="end" fill="#333" font-weight="normal" font-style="normal" textLength="8.6" lengthAdjust="spacingAndGlyphs" stroke="#333" stroke-width="0.12">40</text>
<line x1="36.9" y1="263.35" x2="40.5" y2="263.35" stroke="#000" stroke-width="1.3"/>
<text x="34.3" y="266.35" font-size="8.6" text-anchor="end" fill="#333" font-weight="normal" font-style="normal" textLength="8.6" lengthAdjust="spacingAndGlyphs" stroke="#333" stroke-width="0.12">60</text>
<line x1="36.9" y1="241.3" x2="40.5" y2="241.3" stroke="#000" stroke-width="1.3"/>
<text x="34.3" y="244.3" font-size="8.6" text-anchor="end" fill="#333" font-weight="normal" font-style="normal" textLength="8.6" lengthAdjust="spacingAndGlyphs" stroke="#333" stroke-width="0.12">80</text>
<text transform="translate(19.700000000000003,283.85) rotate(-90)" font-size="8.6" text-anchor="middle" fill="#333" font-weight="normal" font-style="normal" textLength="58" lengthAdjust="spacingAndGlyphs" stroke="#333" stroke-width="0.12">% CD45.2+ in PB</text>
<line x1="36.9" y1="329.5" x2="171.5" y2="329.5" stroke="#000" stroke-width="1.25"/>
<line x1="51.5" y1="329.5" x2="51.5" y2="332.9" stroke="#000" stroke-width="1.3"/>
<line x1="73.5" y1="329.5" x2="73.5" y2="332.9" stroke="#000" stroke-width="1.3"/>
<line x1="95.4" y1="329.5" x2="95.4" y2="332.9" stroke="#000" stroke-width="1.3"/>
<line x1="117.7" y1="329.5" x2="117.7" y2="332.9" stroke="#000" stroke-width="1.3"/>
<line x1="139.7" y1="329.5" x2="139.7" y2="332.9" stroke="#000" stroke-width="1.3"/>
<line x1="161.5" y1="329.5" x2="161.5" y2="332.9" stroke="#000" stroke-width="1.3"/>
<text transform="translate(54.2,375.1) rotate(-90)" font-size="7.6" text-anchor="start" fill="#333" font-weight="normal" font-style="italic" textLength="37.2" lengthAdjust="spacingAndGlyphs" stroke="#333" stroke-width="0.12">pitpα/βWT</text>
<text transform="translate(77.1,374.79999999999995) rotate(-90)" font-size="7.6" text-anchor="start" fill="#333" font-weight="normal" font-style="italic" textLength="38.0" lengthAdjust="spacingAndGlyphs" stroke="#333" stroke-width="0.12">pitpα<tspan font-size="4.5" dy="-2.5">-/-</tspan><tspan dy="2.5">/β</tspan><tspan font-size="4.5" dy="-2.5">-/-</tspan></text>
<text transform="translate(98.10000000000001,375.1) rotate(-90)" font-size="7.6" text-anchor="start" fill="#333" font-weight="normal" font-style="italic" textLength="37.2" lengthAdjust="spacingAndGlyphs" stroke="#333" stroke-width="0.12">pitpα/βWT</text>
<text transform="translate(121.3,374.79999999999995) rotate(-90)" font-size="7.6" text-anchor="start" fill="#333" font-weight="normal" font-style="italic" textLength="38.0" lengthAdjust="spacingAndGlyphs" stroke="#333" stroke-width="0.12">pitpα<tspan font-size="4.5" dy="-2.5">-/-</tspan><tspan dy="2.5">/β</tspan><tspan font-size="4.5" dy="-2.5">-/-</tspan></text>
<text transform="translate(142.39999999999998,375.1) rotate(-90)" font-size="7.6" text-anchor="start" fill="#333" font-weight="normal" font-style="italic" textLength="37.2" lengthAdjust="spacingAndGlyphs" stroke="#333" stroke-width="0.12">pitpα/βWT</text>
<text transform="translate(165.1,374.79999999999995) rotate(-90)" font-size="7.6" text-anchor="start" fill="#333" font-weight="normal" font-style="italic" textLength="38.0" lengthAdjust="spacingAndGlyphs" stroke="#333" stroke-width="0.12">pitpα<tspan font-size="4.5" dy="-2.5">-/-</tspan><tspan dy="2.5">/β</tspan><tspan font-size="4.5" dy="-2.5">-/-</tspan></text>
<line x1="45.5" y1="380.5" x2="79.5" y2="380.5" stroke="#111" stroke-width="1.3"/>
<text x="62.5" y="390.2" font-size="8.3" text-anchor="middle" fill="#333" font-weight="normal" font-style="normal" textLength="24.6" lengthAdjust="spacingAndGlyphs" stroke="#333" stroke-width="0.12">25,000</text>
<line x1="89.55000000000001" y1="380.5" x2="123.55000000000001" y2="380.5" stroke="#111" stroke-width="1.3"/>
<text x="106.55000000000001" y="390.2" font-size="8.3" text-anchor="middle" fill="#333" font-weight="normal" font-style="normal" textLength="24.6" lengthAdjust="spacingAndGlyphs" stroke="#333" stroke-width="0.12">50,000</text>
<line x1="133.6" y1="380.5" x2="167.6" y2="380.5" stroke="#111" stroke-width="1.3"/>
<text x="150.6" y="390.2" font-size="8.3" text-anchor="middle" fill="#333" font-weight="normal" font-style="normal" textLength="28.3" lengthAdjust="spacingAndGlyphs" stroke="#333" stroke-width="0.12">100,000</text>
<text x="106.5" y="403.4" font-size="10" text-anchor="middle" fill="#333" font-weight="normal" font-style="normal" textLength="74" lengthAdjust="spacingAndGlyphs" stroke="#333" stroke-width="0.12">Cell dose of donor BM</text>
<circle cx="46.1" cy="297.2" r="2.15" fill="#981238"/>
<circle cx="51.3" cy="300.5" r="2.15" fill="#981238"/>
<circle cx="57" cy="299.3" r="2.15" fill="#981238"/>
<circle cx="51.3" cy="312.3" r="2.15" fill="#981238"/>
<circle cx="57" cy="314.5" r="2.15" fill="#981238"/>
<circle cx="51.3" cy="318.3" r="2.15" fill="#981238"/>
<line x1="43.5" y1="306.5" x2="59.5" y2="306.5" stroke="#000" stroke-width="1.5"/>
<line x1="51.5" y1="303.7" x2="51.5" y2="310.2" stroke="#000" stroke-width="1.25"/>
<line x1="47.5" y1="303.7" x2="55.5" y2="303.7" stroke="#000" stroke-width="1.2"/>
<line x1="47.5" y1="310.2" x2="55.5" y2="310.2" stroke="#000" stroke-width="1.2"/>
<circle cx="68.3" cy="315.4" r="2.15" fill="#73a14b"/>
<circle cx="74" cy="317.5" r="2.15" fill="#73a14b"/>
<circle cx="68.3" cy="322.3" r="2.15" fill="#73a14b"/>
<circle cx="78.8" cy="323.1" r="2.15" fill="#73a14b"/>
<circle cx="73.1" cy="326.3" r="2.15" fill="#73a14b"/>
<circle cx="76" cy="320" r="2.15" fill="#73a14b"/>
<line x1="66.5" y1="322.3" x2="80.5" y2="322.3" stroke="#000" stroke-width="1.5"/>
<line x1="73.5" y1="320.5" x2="73.5" y2="324.2" stroke="#000" stroke-width="1.25"/>
<line x1="69.5" y1="320.5" x2="77.5" y2="320.5" stroke="#000" stroke-width="1.2"/>
<line x1="69.5" y1="324.2" x2="77.5" y2="324.2" stroke="#000" stroke-width="1.2"/>
<polygon points="95.80,268.58 93.45,272.65 98.15,272.65" fill="#981238"/>
<polygon points="95.80,280.18 93.45,284.25 98.15,284.25" fill="#981238"/>
<polygon points="101.10,279.88 98.75,283.95 103.45,283.95" fill="#981238"/>
<polygon points="90.40,293.58 88.05,297.65 92.75,297.65" fill="#981238"/>
<polygon points="101.10,295.18 98.75,299.25 103.45,299.25" fill="#981238"/>
<polygon points="95.80,298.48 93.45,302.55 98.15,302.55" fill="#981238"/>
<polygon points="95.80,286.98 93.45,291.05 98.15,291.05" fill="#981238"/>
<line x1="87.65" y1="288" x2="103.15" y2="288" stroke="#000" stroke-width="1.5"/>
<line x1="95.4" y1="284.3" x2="95.4" y2="291.6" stroke="#000" stroke-width="1.25"/>
<line x1="91.4" y1="284.3" x2="99.4" y2="284.3" stroke="#000" stroke-width="1.2"/>
<line x1="91.4" y1="291.6" x2="99.4" y2="291.6" stroke="#000" stroke-width="1.2"/>
<polygon points="112.10,307.28 109.75,311.35 114.45,311.35" fill="#73a14b"/>
<polygon points="120.20,306.48 117.85,310.55 122.55,310.55" fill="#73a14b"/>
<polygon points="123.40,310.28 121.05,314.35 125.75,314.35" fill="#73a14b"/>
<polygon points="117.00,310.58 114.65,314.65 119.35,314.65" fill="#73a14b"/>
<polygon points="112.10,321.88 109.75,325.95 114.45,325.95" fill="#73a14b"/>
<polygon points="117.80,325.08 115.45,329.15 120.15,329.15" fill="#73a14b"/>
<polygon points="123.40,322.18 121.05,326.25 125.75,326.25" fill="#73a14b"/>
<line x1="109.95" y1="316.6" x2="125.45" y2="316.6" stroke="#000" stroke-width="1.5"/>
<line x1="117.7" y1="314.2" x2="117.7" y2="319.9" stroke="#000" stroke-width="1.25"/>
<line x1="113.7" y1="314.2" x2="121.7" y2="314.2" stroke="#000" stroke-width="1.2"/>
<line x1="113.7" y1="319.9" x2="121.7" y2="319.9" stroke="#000" stroke-width="1.2"/>
<rect x="137.50" y="245.00" width="4.2" height="4.2" fill="#981238"/>
<rect x="131.80" y="256.30" width="4.2" height="4.2" fill="#981238"/>
<rect x="137.50" y="255.50" width="4.2" height="4.2" fill="#981238"/>
<rect x="143.20" y="255.50" width="4.2" height="4.2" fill="#981238"/>
<rect x="133.90" y="253.90" width="4.2" height="4.2" fill="#981238"/>
<rect x="143.20" y="270.90" width="4.2" height="4.2" fill="#981238"/>
<rect x="137.50" y="271.70" width="4.2" height="4.2" fill="#981238"/>
<rect x="137.50" y="291.90" width="4.2" height="4.2" fill="#981238"/>
<rect x="137.50" y="312.90" width="4.2" height="4.2" fill="#981238"/>
<line x1="131.95" y1="269.8" x2="147.45" y2="269.8" stroke="#000" stroke-width="1.5"/>
<line x1="139.7" y1="262.8" x2="139.7" y2="275.4" stroke="#000" stroke-width="1.25"/>
<line x1="135.7" y1="262.8" x2="143.7" y2="262.8" stroke="#000" stroke-width="1.2"/>
<line x1="135.7" y1="275.4" x2="143.7" y2="275.4" stroke="#000" stroke-width="1.2"/>
<rect x="159.30" y="283.00" width="4.2" height="4.2" fill="#73a14b"/>
<rect x="160.10" y="303.20" width="4.2" height="4.2" fill="#73a14b"/>
<rect x="154.50" y="306.40" width="4.2" height="4.2" fill="#73a14b"/>
<rect x="160.90" y="308.90" width="4.2" height="4.2" fill="#73a14b"/>
<rect x="154.50" y="316.90" width="4.2" height="4.2" fill="#73a14b"/>
<rect x="154.50" y="321.80" width="4.2" height="4.2" fill="#73a14b"/>
<rect x="160.10" y="318.60" width="4.2" height="4.2" fill="#73a14b"/>
<rect x="159.30" y="325.00" width="4.2" height="4.2" fill="#73a14b"/>
<rect x="164.90" y="325.00" width="4.2" height="4.2" fill="#73a14b"/>
<line x1="153.75" y1="314.2" x2="169.25" y2="314.2" stroke="#000" stroke-width="1.5"/>
<line x1="161.5" y1="311" x2="161.5" y2="318.2" stroke="#000" stroke-width="1.25"/>
<line x1="157.5" y1="311" x2="165.5" y2="311" stroke="#000" stroke-width="1.2"/>
<line x1="157.5" y1="318.2" x2="165.5" y2="318.2" stroke="#000" stroke-width="1.2"/>
<text x="46.1" y="288.5" font-size="6.9" text-anchor="start" fill="#333" font-weight="normal" font-style="normal" textLength="31.9" lengthAdjust="spacingAndGlyphs" stroke="#333" stroke-width="0.12">p=0.0043</text>
<line x1="46.1" y1="290.3" x2="78" y2="290.3" stroke="#222" stroke-width="1.1"/>
<text x="89.3" y="263.0" font-size="6.9" text-anchor="start" fill="#333" font-weight="normal" font-style="normal" textLength="31.7" lengthAdjust="spacingAndGlyphs" stroke="#333" stroke-width="0.12">p&lt;0.0001</text>
<line x1="89.3" y1="264.8" x2="121" y2="264.8" stroke="#222" stroke-width="1.1"/>
<text x="135.6" y="240.0" font-size="6.9" text-anchor="start" fill="#333" font-weight="normal" font-style="normal" textLength="31.0" lengthAdjust="spacingAndGlyphs" stroke="#333" stroke-width="0.12">p&lt;0.0001</text>
<line x1="135.6" y1="241.79999999999998" x2="166.6" y2="241.79999999999998" stroke="#222" stroke-width="1.1"/>
<text x="181.2" y="220.4" font-size="11" text-anchor="start" fill="#000" font-weight="bold" font-style="normal" textLength="7.0" lengthAdjust="spacingAndGlyphs">E</text>
<text x="258.0" y="232.6" font-size="9.4" text-anchor="start" fill="#222" font-weight="normal" font-style="normal" textLength="35.5" lengthAdjust="spacingAndGlyphs">Month 4</text>
<line x1="209.4" y1="238.2" x2="209.4" y2="330.1" stroke="#000" stroke-width="1.25"/>
<line x1="205.8" y1="329.5" x2="209.4" y2="329.5" stroke="#000" stroke-width="1.3"/>
<text x="203.20000000000002" y="332.5" font-size="8.6" text-anchor="end" fill="#333" font-weight="normal" font-style="normal" textLength="4.3" lengthAdjust="spacingAndGlyphs" stroke="#333" stroke-width="0.12">0</text>
<line x1="205.8" y1="307.45" x2="209.4" y2="307.45" stroke="#000" stroke-width="1.3"/>
<text x="203.20000000000002" y="310.45" font-size="8.6" text-anchor="end" fill="#333" font-weight="normal" font-style="normal" textLength="8.6" lengthAdjust="spacingAndGlyphs" stroke="#333" stroke-width="0.12">20</text>
<line x1="205.8" y1="285.4" x2="209.4" y2="285.4" stroke="#000" stroke-width="1.3"/>
<text x="203.20000000000002" y="288.4" font-size="8.6" text-anchor="end" fill="#333" font-weight="normal" font-style="normal" textLength="8.6" lengthAdjust="spacingAndGlyphs" stroke="#333" stroke-width="0.12">40</text>
<line x1="205.8" y1="263.35" x2="209.4" y2="263.35" stroke="#000" stroke-width="1.3"/>
<text x="203.20000000000002" y="266.35" font-size="8.6" text-anchor="end" fill="#333" font-weight="normal" font-style="normal" textLength="8.6" lengthAdjust="spacingAndGlyphs" stroke="#333" stroke-width="0.12">60</text>
<line x1="205.8" y1="241.3" x2="209.4" y2="241.3" stroke="#000" stroke-width="1.3"/>
<text x="203.20000000000002" y="244.3" font-size="8.6" text-anchor="end" fill="#333" font-weight="normal" font-style="normal" textLength="8.6" lengthAdjust="spacingAndGlyphs" stroke="#333" stroke-width="0.12">80</text>
<text transform="translate(188.0,283.85) rotate(-90)" font-size="8.6" text-anchor="middle" fill="#333" font-weight="normal" font-style="normal" textLength="59.5" lengthAdjust="spacingAndGlyphs" stroke="#333" stroke-width="0.12">% CD45.2+ in BM</text>
<line x1="205.8" y1="329.5" x2="342.3" y2="329.5" stroke="#000" stroke-width="1.25"/>
<line x1="220" y1="329.5" x2="220" y2="332.9" stroke="#000" stroke-width="1.3"/>
<line x1="242.3" y1="329.5" x2="242.3" y2="332.9" stroke="#000" stroke-width="1.3"/>
<line x1="264.3" y1="329.5" x2="264.3" y2="332.9" stroke="#000" stroke-width="1.3"/>
<line x1="286.2" y1="329.5" x2="286.2" y2="332.9" stroke="#000" stroke-width="1.3"/>
<line x1="308.5" y1="329.5" x2="308.5" y2="332.9" stroke="#000" stroke-width="1.3"/>
<line x1="330.8" y1="329.5" x2="330.8" y2="332.9" stroke="#000" stroke-width="1.3"/>
<text transform="translate(222.7,375.1) rotate(-90)" font-size="7.6" text-anchor="start" fill="#333" font-weight="normal" font-style="italic" textLength="37.2" lengthAdjust="spacingAndGlyphs" stroke="#333" stroke-width="0.12">pitpα/βWT</text>
<text transform="translate(245.9,374.79999999999995) rotate(-90)" font-size="7.6" text-anchor="start" fill="#333" font-weight="normal" font-style="italic" textLength="38.0" lengthAdjust="spacingAndGlyphs" stroke="#333" stroke-width="0.12">pitpα<tspan font-size="4.5" dy="-2.5">-/-</tspan><tspan dy="2.5">/β</tspan><tspan font-size="4.5" dy="-2.5">-/-</tspan></text>
<text transform="translate(267.0,375.1) rotate(-90)" font-size="7.6" text-anchor="start" fill="#333" font-weight="normal" font-style="italic" textLength="37.2" lengthAdjust="spacingAndGlyphs" stroke="#333" stroke-width="0.12">pitpα/βWT</text>
<text transform="translate(289.8,374.79999999999995) rotate(-90)" font-size="7.6" text-anchor="start" fill="#333" font-weight="normal" font-style="italic" textLength="38.0" lengthAdjust="spacingAndGlyphs" stroke="#333" stroke-width="0.12">pitpα<tspan font-size="4.5" dy="-2.5">-/-</tspan><tspan dy="2.5">/β</tspan><tspan font-size="4.5" dy="-2.5">-/-</tspan></text>
<text transform="translate(311.2,375.1) rotate(-90)" font-size="7.6" text-anchor="start" fill="#333" font-weight="normal" font-style="italic" textLength="37.2" lengthAdjust="spacingAndGlyphs" stroke="#333" stroke-width="0.12">pitpα/βWT</text>
<text transform="translate(334.40000000000003,374.79999999999995) rotate(-90)" font-size="7.6" text-anchor="start" fill="#333" font-weight="normal" font-style="italic" textLength="38.0" lengthAdjust="spacingAndGlyphs" stroke="#333" stroke-width="0.12">pitpα<tspan font-size="4.5" dy="-2.5">-/-</tspan><tspan dy="2.5">/β</tspan><tspan font-size="4.5" dy="-2.5">-/-</tspan></text>
<line x1="214.15" y1="380.5" x2="248.15" y2="380.5" stroke="#111" stroke-width="1.3"/>
<text x="231.15" y="390.2" font-size="8.3" text-anchor="middle" fill="#333" font-weight="normal" font-style="normal" textLength="24.6" lengthAdjust="spacingAndGlyphs" stroke="#333" stroke-width="0.12">25,000</text>
<line x1="258.25" y1="380.5" x2="292.25" y2="380.5" stroke="#111" stroke-width="1.3"/>
<text x="275.25" y="390.2" font-size="8.3" text-anchor="middle" fill="#333" font-weight="normal" font-style="normal" textLength="24.6" lengthAdjust="spacingAndGlyphs" stroke="#333" stroke-width="0.12">50,000</text>
<line x1="302.65" y1="380.5" x2="336.65" y2="380.5" stroke="#111" stroke-width="1.3"/>
<text x="319.65" y="390.2" font-size="8.3" text-anchor="middle" fill="#333" font-weight="normal" font-style="normal" textLength="28.3" lengthAdjust="spacingAndGlyphs" stroke="#333" stroke-width="0.12">100,000</text>
<text x="275.4" y="403.4" font-size="10" text-anchor="middle" fill="#333" font-weight="normal" font-style="normal" textLength="74" lengthAdjust="spacingAndGlyphs" stroke="#333" stroke-width="0.12">Cell dose of donor BM</text>
<circle cx="214.5" cy="317.5" r="2.15" fill="#981238"/>
<circle cx="220.1" cy="315.5" r="2.15" fill="#981238"/>
<circle cx="225.8" cy="315.8" r="2.15" fill="#981238"/>
<circle cx="214.5" cy="321.5" r="2.15" fill="#981238"/>
<circle cx="225.8" cy="321.5" r="2.15" fill="#981238"/>
<circle cx="220.1" cy="325.9" r="2.15" fill="#981238"/>
<line x1="212.5" y1="320.4" x2="227.5" y2="320.4" stroke="#000" stroke-width="1.5"/>
<line x1="220" y1="319.2" x2="220" y2="321.6" stroke="#000" stroke-width="1.25"/>
<line x1="216.0" y1="319.2" x2="224.0" y2="319.2" stroke="#000" stroke-width="1.2"/>
<line x1="216.0" y1="321.6" x2="224.0" y2="321.6" stroke="#000" stroke-width="1.2"/>
<circle cx="237.5" cy="327" r="2.15" fill="#73a14b"/>
<circle cx="243.6" cy="324.7" r="2.15" fill="#73a14b"/>
<circle cx="246.5" cy="327" r="2.15" fill="#73a14b"/>
<circle cx="240" cy="328.5" r="2.15" fill="#73a14b"/>
<circle cx="244.5" cy="328.5" r="2.15" fill="#73a14b"/>
<line x1="235.3" y1="328" x2="249.3" y2="328" stroke="#000" stroke-width="1.5"/>
<line x1="242.3" y1="327.4" x2="242.3" y2="328.6" stroke="#000" stroke-width="1.25"/>
<line x1="238.3" y1="327.4" x2="246.3" y2="327.4" stroke="#000" stroke-width="1.2"/>
<line x1="238.3" y1="328.6" x2="246.3" y2="328.6" stroke="#000" stroke-width="1.2"/>
<polygon points="264.60,287.18 262.25,291.25 266.95,291.25" fill="#981238"/>
<polygon points="259.70,301.68 257.35,305.75 262.05,305.75" fill="#981238"/>
<polygon points="265.40,300.88 263.05,304.95 267.75,304.95" fill="#981238"/>
<polygon points="269.40,300.08 267.05,304.15 271.75,304.15" fill="#981238"/>
<polygon points="264.60,308.98 262.25,313.05 266.95,313.05" fill="#981238"/>
<polygon points="264.60,313.78 262.25,317.85 266.95,317.85" fill="#981238"/>
<polygon points="270.20,311.38 267.85,315.45 272.55,315.45" fill="#981238"/>
<line x1="256.85" y1="305.3" x2="272.35" y2="305.3" stroke="#000" stroke-width="1.5"/>
<line x1="264.6" y1="301.6" x2="264.6" y2="309" stroke="#000" stroke-width="1.25"/>
<line x1="260.6" y1="301.6" x2="268.6" y2="301.6" stroke="#000" stroke-width="1.2"/>
<line x1="260.6" y1="309" x2="268.6" y2="309" stroke="#000" stroke-width="1.2"/>
<polygon points="286.50,312.18 284.15,316.25 288.85,316.25" fill="#73a14b"/>
<polygon points="286.50,318.68 284.15,322.75 288.85,322.75" fill="#73a14b"/>
<polygon points="281.30,323.48 278.95,327.55 283.65,327.55" fill="#73a14b"/>
<polygon points="291.00,323.48 288.65,327.55 293.35,327.55" fill="#73a14b"/>
<polygon points="284.50,326.98 282.15,331.05 286.85,331.05" fill="#73a14b"/>
<polygon points="287.80,326.98 285.45,331.05 290.15,331.05" fill="#73a14b"/>
<line x1="278.65" y1="324.7" x2="294.15" y2="324.7" stroke="#000" stroke-width="1.5"/>
<line x1="286.4" y1="323.1" x2="286.4" y2="327.5" stroke="#000" stroke-width="1.25"/>
<line x1="282.4" y1="323.1" x2="290.4" y2="323.1" stroke="#000" stroke-width="1.2"/>
<line x1="282.4" y1="327.5" x2="290.4" y2="327.5" stroke="#000" stroke-width="1.2"/>
<rect x="306.70" y="252.00" width="4.2" height="4.2" fill="#981238"/>
<rect x="301.50" y="258.80" width="4.2" height="4.2" fill="#981238"/>
<rect x="306.70" y="260.70" width="4.2" height="4.2" fill="#981238"/>
<rect x="301.50" y="274.10" width="4.2" height="4.2" fill="#981238"/>
<rect x="311.90" y="274.60" width="4.2" height="4.2" fill="#981238"/>
<rect x="306.70" y="276.20" width="4.2" height="4.2" fill="#981238"/>
<rect x="301.50" y="285.90" width="4.2" height="4.2" fill="#981238"/>
<rect x="306.70" y="289.80" width="4.2" height="4.2" fill="#981238"/>
<rect x="306.70" y="299.20" width="4.2" height="4.2" fill="#981238"/>
<line x1="301.05" y1="276.7" x2="316.55" y2="276.7" stroke="#000" stroke-width="1.5"/>
<line x1="308.8" y1="272.5" x2="308.8" y2="281.1" stroke="#000" stroke-width="1.25"/>
<line x1="304.8" y1="272.5" x2="312.8" y2="272.5" stroke="#000" stroke-width="1.2"/>
<line x1="304.8" y1="281.1" x2="312.8" y2="281.1" stroke="#000" stroke-width="1.2"/>
<rect x="323.70" y="312.90" width="4.2" height="4.2" fill="#73a14b"/>
<rect x="328.50" y="311.30" width="4.2" height="4.2" fill="#73a14b"/>
<rect x="334.20" y="312.90" width="4.2" height="4.2" fill="#73a14b"/>
<rect x="323.70" y="318.60" width="4.2" height="4.2" fill="#73a14b"/>
<rect x="334.20" y="316.90" width="4.2" height="4.2" fill="#73a14b"/>
<rect x="328.50" y="323.40" width="4.2" height="4.2" fill="#73a14b"/>
<rect x="334.20" y="321.50" width="4.2" height="4.2" fill="#73a14b"/>
<rect x="323.70" y="315.90" width="4.2" height="4.2" fill="#73a14b"/>
<rect x="328.50" y="315.90" width="4.2" height="4.2" fill="#73a14b"/>
<line x1="323.05" y1="317.8" x2="338.55" y2="317.8" stroke="#000" stroke-width="1.5"/>
<line x1="330.8" y1="316.5" x2="330.8" y2="319.2" stroke="#000" stroke-width="1.25"/>
<line x1="326.8" y1="316.5" x2="334.8" y2="316.5" stroke="#000" stroke-width="1.2"/>
<line x1="326.8" y1="319.2" x2="334.8" y2="319.2" stroke="#000" stroke-width="1.2"/>
<text x="214.5" y="309.5" font-size="6.9" text-anchor="start" fill="#333" font-weight="normal" font-style="normal" textLength="32.0" lengthAdjust="spacingAndGlyphs" stroke="#333" stroke-width="0.12">p=0.0007</text>
<line x1="214.5" y1="311.3" x2="246.5" y2="311.3" stroke="#222" stroke-width="1.1"/>
<text x="257.3" y="280.79999999999995" font-size="6.9" text-anchor="start" fill="#333" font-weight="normal" font-style="normal" textLength="30.8" lengthAdjust="spacingAndGlyphs" stroke="#333" stroke-width="0.12">p&lt;0.0001</text>
<line x1="257.3" y1="282.59999999999997" x2="288.1" y2="282.59999999999997" stroke="#222" stroke-width="1.1"/>
<text x="303.1" y="245.6" font-size="6.9" text-anchor="start" fill="#333" font-weight="normal" font-style="normal" textLength="31.2" lengthAdjust="spacingAndGlyphs" stroke="#333" stroke-width="0.12">p&lt;0.0001</text>
<line x1="303.1" y1="247.39999999999998" x2="334.3" y2="247.39999999999998" stroke="#222" stroke-width="1.1"/>
<text x="348.8" y="220.4" font-size="11" text-anchor="start" fill="#000" font-weight="bold" font-style="normal" textLength="6.6" lengthAdjust="spacingAndGlyphs">F</text>
<text x="429.6" y="232.6" font-size="9.4" text-anchor="start" fill="#222" font-weight="normal" font-style="normal" textLength="35.5" lengthAdjust="spacingAndGlyphs">Month 4</text>
<line x1="381.9" y1="238.2" x2="381.9" y2="330.1" stroke="#000" stroke-width="1.25"/>
<line x1="378.29999999999995" y1="329.5" x2="381.9" y2="329.5" stroke="#000" stroke-width="1.3"/>
<text x="375.7" y="332.5" font-size="8.6" text-anchor="end" fill="#333" font-weight="normal" font-style="normal" textLength="10.8" lengthAdjust="spacingAndGlyphs" stroke="#333" stroke-width="0.12">0.0</text>
<line x1="378.29999999999995" y1="299.93333333333334" x2="381.9" y2="299.93333333333334" stroke="#000" stroke-width="1.3"/>
<text x="375.7" y="302.93333333333334" font-size="8.6" text-anchor="end" fill="#333" font-weight="normal" font-style="normal" textLength="10.8" lengthAdjust="spacingAndGlyphs" stroke="#333" stroke-width="0.12">0.2</text>
<line x1="378.29999999999995" y1="270.3666666666667" x2="381.9" y2="270.3666666666667" stroke="#000" stroke-width="1.3"/>
<text x="375.7" y="273.3666666666667" font-size="8.6" text-anchor="end" fill="#333" font-weight="normal" font-style="normal" textLength="10.8" lengthAdjust="spacingAndGlyphs" stroke="#333" stroke-width="0.12">0.4</text>
<line x1="378.29999999999995" y1="240.8" x2="381.9" y2="240.8" stroke="#000" stroke-width="1.3"/>
<text x="375.7" y="243.8" font-size="8.6" text-anchor="end" fill="#333" font-weight="normal" font-style="normal" textLength="10.8" lengthAdjust="spacingAndGlyphs" stroke="#333" stroke-width="0.12">0.6</text>
<text transform="translate(357.70000000000005,283.85) rotate(-90)" font-size="8.6" text-anchor="middle" fill="#333" font-weight="normal" font-style="normal" textLength="78" lengthAdjust="spacingAndGlyphs" stroke="#333" stroke-width="0.12">Myeloid/lymphoid ratio</text>
<line x1="378.29999999999995" y1="329.5" x2="510.5" y2="329.5" stroke="#000" stroke-width="1.25"/>
<line x1="392.7" y1="329.5" x2="392.7" y2="332.9" stroke="#000" stroke-width="1.3"/>
<line x1="414.7" y1="329.5" x2="414.7" y2="332.9" stroke="#000" stroke-width="1.3"/>
<line x1="436.5" y1="329.5" x2="436.5" y2="332.9" stroke="#000" stroke-width="1.3"/>
<line x1="457.7" y1="329.5" x2="457.7" y2="332.9" stroke="#000" stroke-width="1.3"/>
<line x1="480.3" y1="329.5" x2="480.3" y2="332.9" stroke="#000" stroke-width="1.3"/>
<line x1="501.8" y1="329.5" x2="501.8" y2="332.9" stroke="#000" stroke-width="1.3"/>
<text transform="translate(395.4,375.1) rotate(-90)" font-size="7.6" text-anchor="start" fill="#333" font-weight="normal" font-style="italic" textLength="37.2" lengthAdjust="spacingAndGlyphs" stroke="#333" stroke-width="0.12">pitpα/βWT</text>
<text transform="translate(418.3,374.79999999999995) rotate(-90)" font-size="7.6" text-anchor="start" fill="#333" font-weight="normal" font-style="italic" textLength="38.0" lengthAdjust="spacingAndGlyphs" stroke="#333" stroke-width="0.12">pitpα<tspan font-size="4.5" dy="-2.5">-/-</tspan><tspan dy="2.5">/β</tspan><tspan font-size="4.5" dy="-2.5">-/-</tspan></text>
<text transform="translate(439.2,375.1) rotate(-90)" font-size="7.6" text-anchor="start" fill="#333" font-weight="normal" font-style="italic" textLength="37.2" lengthAdjust="spacingAndGlyphs" stroke="#333" stroke-width="0.12">pitpα/βWT</text>
<text transform="translate(461.3,374.79999999999995) rotate(-90)" font-size="7.6" text-anchor="start" fill="#333" font-weight="normal" font-style="italic" textLength="38.0" lengthAdjust="spacingAndGlyphs" stroke="#333" stroke-width="0.12">pitpα<tspan font-size="4.5" dy="-2.5">-/-</tspan><tspan dy="2.5">/β</tspan><tspan font-size="4.5" dy="-2.5">-/-</tspan></text>
<text transform="translate(483.0,375.1) rotate(-90)" font-size="7.6" text-anchor="start" fill="#333" font-weight="normal" font-style="italic" textLength="37.2" lengthAdjust="spacingAndGlyphs" stroke="#333" stroke-width="0.12">pitpα/βWT</text>
<text transform="translate(505.40000000000003,374.79999999999995) rotate(-90)" font-size="7.6" text-anchor="start" fill="#333" font-weight="normal" font-style="italic" textLength="38.0" lengthAdjust="spacingAndGlyphs" stroke="#333" stroke-width="0.12">pitpα<tspan font-size="4.5" dy="-2.5">-/-</tspan><tspan dy="2.5">/β</tspan><tspan font-size="4.5" dy="-2.5">-/-</tspan></text>
<line x1="386.7" y1="380.5" x2="420.7" y2="380.5" stroke="#111" stroke-width="1.3"/>
<text x="403.7" y="390.2" font-size="8.3" text-anchor="middle" fill="#333" font-weight="normal" font-style="normal" textLength="24.6" lengthAdjust="spacingAndGlyphs" stroke="#333" stroke-width="0.12">25,000</text>
<line x1="430.1" y1="380.5" x2="464.1" y2="380.5" stroke="#111" stroke-width="1.3"/>
<text x="447.1" y="390.2" font-size="8.3" text-anchor="middle" fill="#333" font-weight="normal" font-style="normal" textLength="24.6" lengthAdjust="spacingAndGlyphs" stroke="#333" stroke-width="0.12">50,000</text>
<line x1="474.05" y1="380.5" x2="508.05" y2="380.5" stroke="#111" stroke-width="1.3"/>
<text x="491.05" y="390.2" font-size="8.3" text-anchor="middle" fill="#333" font-weight="normal" font-style="normal" textLength="28.3" lengthAdjust="spacingAndGlyphs" stroke="#333" stroke-width="0.12">100,000</text>
<text x="447.25" y="403.4" font-size="10" text-anchor="middle" fill="#333" font-weight="normal" font-style="normal" textLength="74" lengthAdjust="spacingAndGlyphs" stroke="#333" stroke-width="0.12">Cell dose of donor BM</text>
<circle cx="392.6" cy="252.5" r="2.15" fill="#981238"/>
<circle cx="392.6" cy="270.2" r="2.15" fill="#981238"/>
<circle cx="392.6" cy="302.1" r="2.15" fill="#981238"/>
<circle cx="392.6" cy="309.7" r="2.15" fill="#981238"/>
<circle cx="397.8" cy="315.8" r="2.15" fill="#981238"/>
<circle cx="392.6" cy="319.4" r="2.15" fill="#981238"/>
<line x1="384.7" y1="295.1" x2="400.7" y2="295.1" stroke="#000" stroke-width="1.5"/>
<line x1="392.7" y1="284" x2="392.7" y2="305.8" stroke="#000" stroke-width="1.25"/>
<line x1="388.7" y1="284" x2="396.7" y2="284" stroke="#000" stroke-width="1.2"/>
<line x1="388.7" y1="305.8" x2="396.7" y2="305.8" stroke="#000" stroke-width="1.2"/>
<circle cx="408.3" cy="319.9" r="2.15" fill="#73a14b"/>
<circle cx="414" cy="322.3" r="2.15" fill="#73a14b"/>
<circle cx="419.6" cy="319.9" r="2.15" fill="#73a14b"/>
<circle cx="414" cy="327.5" r="2.15" fill="#73a14b"/>
<line x1="407.2" y1="322.3" x2="422.2" y2="322.3" stroke="#000" stroke-width="1.5"/>
<line x1="414.7" y1="321.5" x2="414.7" y2="323.1" stroke="#000" stroke-width="1.25"/>
<line x1="410.7" y1="321.5" x2="418.7" y2="321.5" stroke="#000" stroke-width="1.2"/>
<line x1="410.7" y1="323.1" x2="418.7" y2="323.1" stroke="#000" stroke-width="1.2"/>
<polygon points="435.80,271.78 433.45,275.85 438.15,275.85" fill="#981238"/>
<polygon points="441.40,287.58 439.05,291.65 443.75,291.65" fill="#981238"/>
<polygon points="435.80,291.48 433.45,295.55 438.15,295.55" fill="#981238"/>
<polygon points="430.40,316.28 428.05,320.35 432.75,320.35" fill="#981238"/>
<polygon points="435.80,316.28 433.45,320.35 438.15,320.35" fill="#981238"/>
<polygon points="441.10,316.28 438.75,320.35 443.45,320.35" fill="#981238"/>
<polygon points="435.80,321.58 433.45,325.65 438.15,325.65" fill="#981238"/>
<line x1="428.75" y1="304.8" x2="444.25" y2="304.8" stroke="#000" stroke-width="1.5"/>
<line x1="436.5" y1="297.2" x2="436.5" y2="311.8" stroke="#000" stroke-width="1.25"/>
<line x1="432.5" y1="297.2" x2="440.5" y2="297.2" stroke="#000" stroke-width="1.2"/>
<line x1="432.5" y1="311.8" x2="440.5" y2="311.8" stroke="#000" stroke-width="1.2"/>
<polygon points="452.10,317.88 449.75,321.95 454.45,321.95" fill="#73a14b"/>
<polygon points="457.80,317.88 455.45,321.95 460.15,321.95" fill="#73a14b"/>
<polygon points="463.40,316.98 461.05,321.05 465.75,321.05" fill="#73a14b"/>
<polygon points="457.80,325.08 455.45,329.15 460.15,329.15" fill="#73a14b"/>
<line x1="450.2" y1="322.6" x2="465.2" y2="322.6" stroke="#000" stroke-width="1.5"/>
<line x1="457.7" y1="321.8" x2="457.7" y2="323.4" stroke="#000" stroke-width="1.25"/>
<line x1="453.7" y1="321.8" x2="461.7" y2="321.8" stroke="#000" stroke-width="1.2"/>
<line x1="453.7" y1="323.4" x2="461.7" y2="323.4" stroke="#000" stroke-width="1.2"/>
<rect x="478.00" y="261.70" width="4.2" height="4.2" fill="#981238"/>
<rect x="472.70" y="267.20" width="4.2" height="4.2" fill="#981238"/>
<rect x="478.00" y="271.70" width="4.2" height="4.2" fill="#981238"/>
<rect x="483.50" y="269.80" width="4.2" height="4.2" fill="#981238"/>
<rect x="472.70" y="288.20" width="4.2" height="4.2" fill="#981238"/>
<rect x="478.00" y="289.10" width="4.2" height="4.2" fill="#981238"/>
<rect x="483.50" y="287.50" width="4.2" height="4.2" fill="#981238"/>
<rect x="478.00" y="302.70" width="4.2" height="4.2" fill="#981238"/>
<line x1="472.55" y1="281.9" x2="488.05" y2="281.9" stroke="#000" stroke-width="1.5"/>
<line x1="480.3" y1="277.3" x2="480.3" y2="286.4" stroke="#000" stroke-width="1.25"/>
<line x1="476.3" y1="277.3" x2="484.3" y2="277.3" stroke="#000" stroke-width="1.2"/>
<line x1="476.3" y1="286.4" x2="484.3" y2="286.4" stroke="#000" stroke-width="1.2"/>
<rect x="494.50" y="313.70" width="4.2" height="4.2" fill="#73a14b"/>
<rect x="505.00" y="311.80" width="4.2" height="4.2" fill="#73a14b"/>
<rect x="500.10" y="315.30" width="4.2" height="4.2" fill="#73a14b"/>
<rect x="494.50" y="321.80" width="4.2" height="4.2" fill="#73a14b"/>
<rect x="500.10" y="322.60" width="4.2" height="4.2" fill="#73a14b"/>
<rect x="505.00" y="321.00" width="4.2" height="4.2" fill="#73a14b"/>
<line x1="494.3" y1="321" x2="509.3" y2="321" stroke="#000" stroke-width="1.5"/>
<line x1="501.8" y1="320" x2="501.8" y2="322" stroke="#000" stroke-width="1.25"/>
<line x1="497.8" y1="320" x2="505.8" y2="320" stroke="#000" stroke-width="1.2"/>
<line x1="497.8" y1="322" x2="505.8" y2="322" stroke="#000" stroke-width="1.2"/>
<text x="387.3" y="244.5" font-size="6.9" text-anchor="start" fill="#333" font-weight="normal" font-style="normal" textLength="32.3" lengthAdjust="spacingAndGlyphs" stroke="#333" stroke-width="0.12">p=0.0548</text>
<line x1="387.3" y1="246.29999999999998" x2="419.6" y2="246.29999999999998" stroke="#222" stroke-width="1.1"/>
<text x="432" y="265.0" font-size="6.9" text-anchor="start" fill="#333" font-weight="normal" font-style="normal" textLength="31.9" lengthAdjust="spacingAndGlyphs" stroke="#333" stroke-width="0.12">p=0.0219</text>
<line x1="432" y1="266.8" x2="463.9" y2="266.8" stroke="#222" stroke-width="1.1"/>
<text x="475.2" y="254.20000000000002" font-size="6.9" text-anchor="start" fill="#333" font-weight="normal" font-style="normal" textLength="31.1" lengthAdjust="spacingAndGlyphs" stroke="#333" stroke-width="0.12">p&lt;0.0001</text>
<line x1="475.2" y1="256.0" x2="506.3" y2="256.0" stroke="#222" stroke-width="1.1"/>
<text x="7.4" y="430.0" font-size="11" text-anchor="start" fill="#000" font-weight="bold" font-style="normal" textLength="9.0" lengthAdjust="spacingAndGlyphs">G</text>
<defs><clipPath id="gclip"><rect x="40.6" y="437.3" width="132.6" height="126"/></clipPath></defs>
<g clip-path="url(#gclip)">
<line x1="36.00" y1="441.00" x2="170.80" y2="452.71" stroke="#8fb56a" stroke-width="1.0" stroke-dasharray="1.1,1.1"/>
<line x1="36.00" y1="438.46" x2="172.50" y2="488.01" stroke="#8fb56a" stroke-width="1.0" stroke-dasharray="1.1,1.1"/>
<line x1="36.00" y1="440.21" x2="173.20" y2="463.91" stroke="#62993c" stroke-width="1.6"/>
<line x1="36.00" y1="435.39" x2="173.00" y2="530.88" stroke="#7a2640" stroke-width="1.0" stroke-dasharray="1.1,1.1"/>
<line x1="36.00" y1="420.55" x2="100.00" y2="568.39" stroke="#7a2640" stroke-width="1.0" stroke-dasharray="1.1,1.1"/>
<line x1="36.00" y1="429.97" x2="150.00" y2="576.57" stroke="#7d1030" stroke-width="1.7"/>
</g>
<circle cx="75.8" cy="442.7" r="1.8" fill="#6f9d4e"/>
<circle cx="106" cy="446.7" r="1.8" fill="#6f9d4e"/>
<circle cx="167.4" cy="477.1" r="1.8" fill="#6f9d4e"/>
<circle cx="75.8" cy="456.9" r="1.8" fill="#7d1030"/>
<circle cx="106.1" cy="544.4" r="1.8" fill="#7d1030"/>
<circle cx="167.3" cy="558.3" r="1.8" fill="#7d1030"/>
<rect x="40.7" y="437.3" width="132.5" height="125.9" fill="none" stroke="#000" stroke-width="1.2"/>
<line x1="37.2" y1="441.8" x2="40.7" y2="441.8" stroke="#000" stroke-width="1.0"/>
<text x="34.5" y="444.8" font-size="8.6" text-anchor="end" fill="#333" font-weight="normal" font-style="normal" textLength="10.8" lengthAdjust="spacingAndGlyphs" stroke="#333" stroke-width="0.12">0.0</text>
<line x1="37.2" y1="461.2" x2="40.7" y2="461.2" stroke="#000" stroke-width="1.0"/>
<text x="34.5" y="464.2" font-size="8.6" text-anchor="end" fill="#333" font-weight="normal" font-style="normal" textLength="13.8" lengthAdjust="spacingAndGlyphs" stroke="#333" stroke-width="0.12">-0.5</text>
<line x1="37.2" y1="480.5" x2="40.7" y2="480.5" stroke="#000" stroke-width="1.0"/>
<text x="34.5" y="483.5" font-size="8.6" text-anchor="end" fill="#333" font-weight="normal" font-style="normal" textLength="13.8" lengthAdjust="spacingAndGlyphs" stroke="#333" stroke-width="0.12">-1.0</text>
<line x1="37.2" y1="499.8" x2="40.7" y2="499.8" stroke="#000" stroke-width="1.0"/>
<text x="34.5" y="502.8" font-size="8.6" text-anchor="end" fill="#333" font-weight="normal" font-style="normal" textLength="13.8" lengthAdjust="spacingAndGlyphs" stroke="#333" stroke-width="0.12">-1.5</text>
<line x1="37.2" y1="519.1" x2="40.7" y2="519.1" stroke="#000" stroke-width="1.0"/>
<text x="34.5" y="522.1" font-size="8.6" text-anchor="end" fill="#333" font-weight="normal" font-style="normal" textLength="13.8" lengthAdjust="spacingAndGlyphs" stroke="#333" stroke-width="0.12">-2.0</text>
<line x1="37.2" y1="538.4" x2="40.7" y2="538.4" stroke="#000" stroke-width="1.0"/>
<text x="34.5" y="541.4" font-size="8.6" text-anchor="end" fill="#333" font-weight="normal" font-style="normal" textLength="13.8" lengthAdjust="spacingAndGlyphs" stroke="#333" stroke-width="0.12">-2.5</text>
<line x1="37.2" y1="557.8" x2="40.7" y2="557.8" stroke="#000" stroke-width="1.0"/>
<text x="34.5" y="560.8" font-size="8.6" text-anchor="end" fill="#333" font-weight="normal" font-style="normal" textLength="13.8" lengthAdjust="spacingAndGlyphs" stroke="#333" stroke-width="0.12">-2.5</text>
<text transform="translate(14.9,500.55) rotate(-90)" font-size="8.8" text-anchor="middle" fill="#333" font-weight="normal" font-style="normal" textLength="92" lengthAdjust="spacingAndGlyphs" stroke="#333" stroke-width="0.12">Log fraction nonresponding</text>
<line x1="45.2" y1="563.2" x2="45.2" y2="566.2" stroke="#000" stroke-width="1.0"/>
<text transform="translate(47.400000000000006,569.5) rotate(-90)" font-size="7.6" text-anchor="end" fill="#333" font-weight="normal" font-style="normal" textLength="4.2" lengthAdjust="spacingAndGlyphs" stroke="#333" stroke-width="0.12">0</text>
<line x1="69.6" y1="563.2" x2="69.6" y2="566.2" stroke="#000" stroke-width="1.0"/>
<text transform="translate(71.8,569.5) rotate(-90)" font-size="7.6" text-anchor="end" fill="#333" font-weight="normal" font-style="normal" textLength="23.6" lengthAdjust="spacingAndGlyphs" stroke="#333" stroke-width="0.12">20,000</text>
<line x1="94.1" y1="563.2" x2="94.1" y2="566.2" stroke="#000" stroke-width="1.0"/>
<text transform="translate(96.3,569.5) rotate(-90)" font-size="7.6" text-anchor="end" fill="#333" font-weight="normal" font-style="normal" textLength="23.6" lengthAdjust="spacingAndGlyphs" stroke="#333" stroke-width="0.12">40,000</text>
<line x1="118.6" y1="563.2" x2="118.6" y2="566.2" stroke="#000" stroke-width="1.0"/>
<text transform="translate(120.8,569.5) rotate(-90)" font-size="7.6" text-anchor="end" fill="#333" font-weight="normal" font-style="normal" textLength="23.6" lengthAdjust="spacingAndGlyphs" stroke="#333" stroke-width="0.12">60,000</text>
<line x1="143.1" y1="563.2" x2="143.1" y2="566.2" stroke="#000" stroke-width="1.0"/>
<text transform="translate(145.29999999999998,569.5) rotate(-90)" font-size="7.6" text-anchor="end" fill="#333" font-weight="normal" font-style="normal" textLength="23.6" lengthAdjust="spacingAndGlyphs" stroke="#333" stroke-width="0.12">80,000</text>
<line x1="167.6" y1="563.2" x2="167.6" y2="566.2" stroke="#000" stroke-width="1.0"/>
<text transform="translate(169.79999999999998,569.5) rotate(-90)" font-size="7.6" text-anchor="end" fill="#333" font-weight="normal" font-style="normal" textLength="27.4" lengthAdjust="spacingAndGlyphs" stroke="#333" stroke-width="0.12">100,000</text>
<text x="81" y="610.2" font-size="9" text-anchor="start" fill="#333" font-weight="normal" font-style="normal" textLength="52" lengthAdjust="spacingAndGlyphs" stroke="#333" stroke-width="0.12">Dose (# of cells)</text>
<text x="44.7" y="545.9" font-size="7.5" text-anchor="start" fill="#8a2a4a" font-weight="normal" font-style="italic" textLength="37.2" lengthAdjust="spacingAndGlyphs" stroke="#8a2a4a" stroke-width="0.12">Pitpα/βWT</text>
<text x="44.7" y="559.4" font-size="7.5" text-anchor="start" fill="#7ab060" font-weight="normal" font-style="italic" textLength="38" lengthAdjust="spacingAndGlyphs" stroke="#7ab060" stroke-width="0.12">pitpα<tspan font-size="4.5" dy="-2.8">-/-</tspan><tspan dy="2.8">/β</tspan><tspan font-size="4.5" dy="-2.8">-/-</tspan></text>
<text x="180.6" y="429.8" font-size="11" text-anchor="start" fill="#000" font-weight="bold" font-style="normal" textLength="9.0" lengthAdjust="spacingAndGlyphs">H</text>
<line x1="217.4" y1="434" x2="217.4" y2="557.8" stroke="#000" stroke-width="1.25"/>
<line x1="214.0" y1="556.9" x2="217.4" y2="556.9" stroke="#000" stroke-width="1.0"/>
<text x="211.0" y="559.6999999999999" font-size="8.0" text-anchor="end" fill="#333" font-weight="normal" font-style="normal" textLength="4.085" lengthAdjust="spacingAndGlyphs" stroke="#333" stroke-width="0.12">0</text>
<line x1="214.0" y1="541.875" x2="217.4" y2="541.875" stroke="#000" stroke-width="1.0"/>
<text x="211.0" y="544.675" font-size="8.0" text-anchor="end" fill="#333" font-weight="normal" font-style="normal" textLength="8.17" lengthAdjust="spacingAndGlyphs" stroke="#333" stroke-width="0.12">10</text>
<line x1="214.0" y1="526.85" x2="217.4" y2="526.85" stroke="#000" stroke-width="1.0"/>
<text x="211.0" y="529.65" font-size="8.0" text-anchor="end" fill="#333" font-weight="normal" font-style="normal" textLength="8.17" lengthAdjust="spacingAndGlyphs" stroke="#333" stroke-width="0.12">20</text>
<line x1="214.0" y1="511.825" x2="217.4" y2="511.825" stroke="#000" stroke-width="1.0"/>
<text x="211.0" y="514.625" font-size="8.0" text-anchor="end" fill="#333" font-weight="normal" font-style="normal" textLength="8.17" lengthAdjust="spacingAndGlyphs" stroke="#333" stroke-width="0.12">30</text>
<line x1="214.0" y1="496.79999999999995" x2="217.4" y2="496.79999999999995" stroke="#000" stroke-width="1.0"/>
<text x="211.0" y="499.59999999999997" font-size="8.0" text-anchor="end" fill="#333" font-weight="normal" font-style="normal" textLength="8.17" lengthAdjust="spacingAndGlyphs" stroke="#333" stroke-width="0.12">40</text>
<line x1="214.0" y1="481.775" x2="217.4" y2="481.775" stroke="#000" stroke-width="1.0"/>
<text x="211.0" y="484.575" font-size="8.0" text-anchor="end" fill="#333" font-weight="normal" font-style="normal" textLength="8.17" lengthAdjust="spacingAndGlyphs" stroke="#333" stroke-width="0.12">50</text>
<line x1="214.0" y1="466.75" x2="217.4" y2="466.75" stroke="#000" stroke-width="1.0"/>
<text x="211.0" y="469.55" font-size="8.0" text-anchor="end" fill="#333" font-weight="normal" font-style="normal" textLength="8.17" lengthAdjust="spacingAndGlyphs" stroke="#333" stroke-width="0.12">60</text>
<line x1="214.0" y1="451.72499999999997" x2="217.4" y2="451.72499999999997" stroke="#000" stroke-width="1.0"/>
<text x="211.0" y="454.525" font-size="8.0" text-anchor="end" fill="#333" font-weight="normal" font-style="normal" textLength="8.17" lengthAdjust="spacingAndGlyphs" stroke="#333" stroke-width="0.12">70</text>
<line x1="214.0" y1="436.7" x2="217.4" y2="436.7" stroke="#000" stroke-width="1.0"/>
<text x="211.0" y="439.5" font-size="8.0" text-anchor="end" fill="#333" font-weight="normal" font-style="normal" textLength="8.17" lengthAdjust="spacingAndGlyphs" stroke="#333" stroke-width="0.12">80</text>
<text transform="translate(192.6,495.75) rotate(-90)" font-size="8.8" text-anchor="middle" fill="#333" font-weight="normal" font-style="normal" textLength="72" lengthAdjust="spacingAndGlyphs" stroke="#333" stroke-width="0.12"># CRU per 1x10<tspan font-size="5.5" dy="-3.2">6</tspan><tspan dy="3.2"> cells</tspan></text>
<line x1="214.0" y1="557.2" x2="340.2" y2="557.2" stroke="#000" stroke-width="1.25"/>
<rect x="237.6" y="446.4" width="26.2" height="77.8" fill="none" stroke="#8e2446" stroke-width="1.3"/>
<line x1="237.6" y1="496.2" x2="263.8" y2="496.2" stroke="#8e2446" stroke-width="1.3"/>
<rect x="303.6" y="539.2" width="26.2" height="13.9" fill="none" stroke="#7aaa58" stroke-width="1.1"/>
<line x1="303.6" y1="549" x2="329.8" y2="549" stroke="#7aaa58" stroke-width="1.1"/>
<text x="271" y="439.4" font-size="7.5" text-anchor="start" fill="#222" font-weight="normal" font-style="normal" textLength="31.7" lengthAdjust="spacingAndGlyphs" stroke="#222" stroke-width="0.05">p&lt;0.0001</text>
<text x="230.8" y="570.1" font-size="7.5" text-anchor="start" fill="#222" font-weight="normal" font-style="italic" textLength="38.6" lengthAdjust="spacingAndGlyphs" stroke="#222" stroke-width="0.05">pitpα/βWT</text>
<text x="296.9" y="570.8" font-size="7.5" text-anchor="start" fill="#222" font-weight="normal" font-style="italic" textLength="38.1" lengthAdjust="spacingAndGlyphs" stroke="#222" stroke-width="0.05">pitpα<tspan font-size="4.5" dy="-2.8">-/-</tspan><tspan dy="2.8">/β</tspan><tspan font-size="4.5" dy="-2.8">-/-</tspan></text>
</svg>
</body></html>
